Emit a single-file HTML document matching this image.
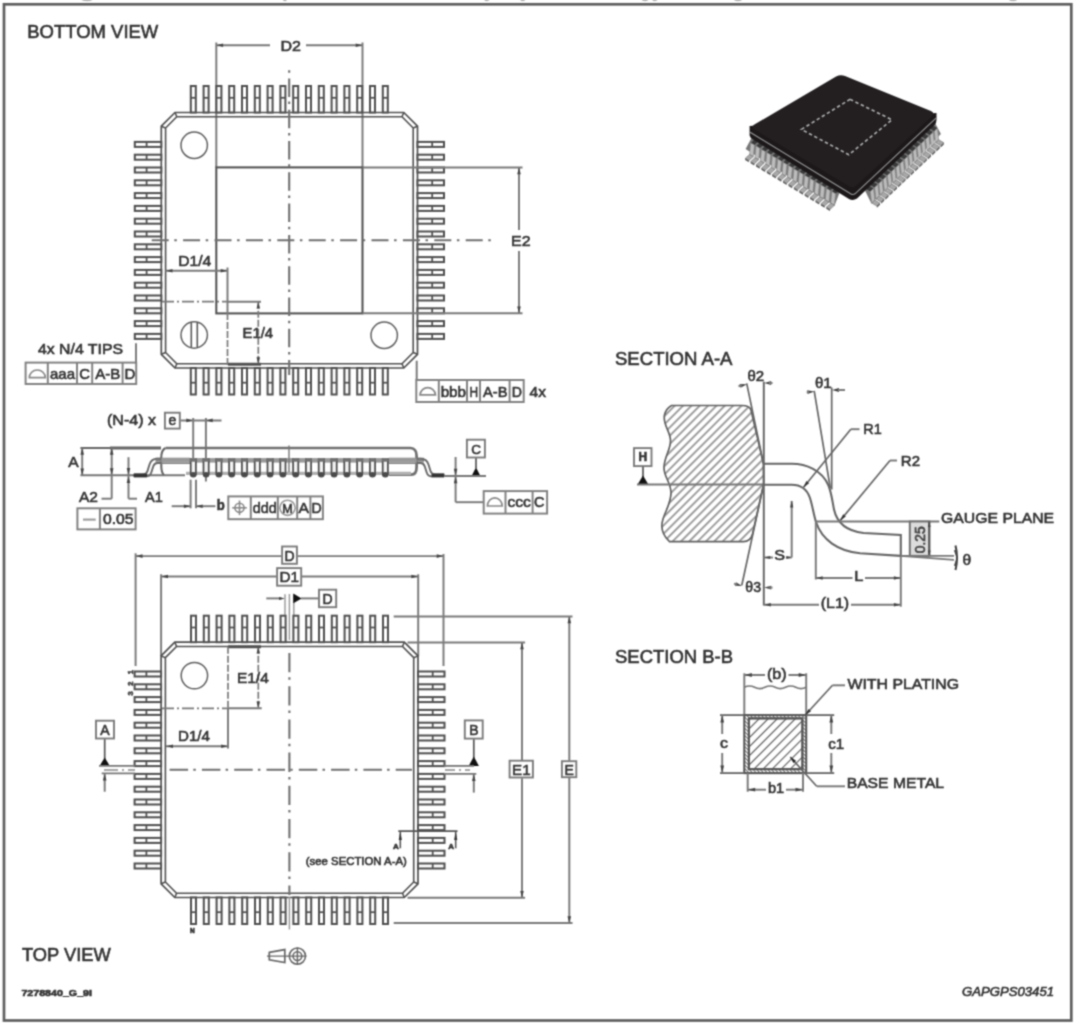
<!DOCTYPE html>
<html><head><meta charset="utf-8"><title>LQFP package outline</title>
<style>
html,body{margin:0;padding:0;background:#fff;}
body{width:1080px;height:1028px;overflow:hidden;}
svg{display:block;font-family:"Liberation Sans",sans-serif;}
svg text{stroke:#333;stroke-width:0.6px;paint-order:stroke;}
</style></head>
<body>
<svg width="1080" height="1028" viewBox="0 0 1080 1028">
<defs><filter id="bl" x="0" y="0" width="1080" height="1028" filterUnits="userSpaceOnUse" color-interpolation-filters="sRGB"><feConvolveMatrix order="3" kernelMatrix="0.0437 0.1216 0.0437 0.1216 0.338 0.1216 0.0437 0.1216 0.0437" divisor="1" edgeMode="duplicate" preserveAlpha="false"/></filter></defs>
<g id="all" filter="url(#bl)">
<rect x="0" y="0" width="1080" height="1028" fill="#fff"/>
<rect x="4" y="4.3" width="1067.3" height="1016.2" fill="none" stroke="#5e5e5e" stroke-width="2.7"/>
<ellipse cx="87.0" cy="-2.6" rx="7.0" ry="3.2" fill="none" stroke="#b5b5b5" stroke-width="1.2"/>
<ellipse cx="285.0" cy="-2.6" rx="2.0" ry="3.2" fill="none" stroke="#b5b5b5" stroke-width="1.2"/>
<ellipse cx="487.0" cy="-2.6" rx="3.0" ry="3.2" fill="none" stroke="#b5b5b5" stroke-width="1.2"/>
<ellipse cx="523.0" cy="-2.6" rx="3.0" ry="3.2" fill="none" stroke="#b5b5b5" stroke-width="1.2"/>
<ellipse cx="645.0" cy="-2.6" rx="4.0" ry="3.2" fill="none" stroke="#b5b5b5" stroke-width="1.2"/>
<ellipse cx="655.0" cy="-2.6" rx="3.0" ry="3.2" fill="none" stroke="#b5b5b5" stroke-width="1.2"/>
<ellipse cx="738.0" cy="-2.6" rx="5.0" ry="3.2" fill="none" stroke="#b5b5b5" stroke-width="1.2"/>
<ellipse cx="1013.0" cy="-2.6" rx="5.0" ry="3.2" fill="none" stroke="#b5b5b5" stroke-width="1.2"/>
<text x="27.3" y="38.0" font-size="18.5" text-anchor="start" font-weight="normal" fill="#333" textLength="131.0" lengthAdjust="spacingAndGlyphs"  >BOTTOM VIEW</text>
<line x1="216.3" y1="42.5" x2="216.3" y2="167.3" stroke="#7a7a7a" stroke-width="1.95" />
<line x1="362.5" y1="42.5" x2="362.5" y2="167.3" stroke="#7a7a7a" stroke-width="1.95" />
<line x1="216.3" y1="45.3" x2="270.0" y2="45.3" stroke="#7a7a7a" stroke-width="1.95" />
<line x1="306.0" y1="45.3" x2="362.5" y2="45.3" stroke="#7a7a7a" stroke-width="1.95" />
<polygon points="216.6,45.3 223.1,43.5 223.1,47.1" fill="#444"/>
<polygon points="362.2,45.3 355.7,47.1 355.7,43.5" fill="#444"/>
<text x="280.5" y="50.5" font-size="15" text-anchor="start" font-weight="normal" fill="#333" textLength="20.5" lengthAdjust="spacingAndGlyphs"  >D2</text>
<polygon points="175.0,112.5 403.8,112.5 417.5,126.2 417.5,354.3 403.8,368.0 175.0,368.0 161.3,354.3 161.3,126.2" fill="none" stroke="#505050" stroke-width="1.7"/>
<polygon points="176.8,116.8 402.0,116.8 413.2,128.0 413.2,352.5 402.0,363.7 176.8,363.7 165.6,352.5 165.6,128.0" fill="none" stroke="#505050" stroke-width="1.6"/>
<line x1="175.0" y1="112.5" x2="176.8" y2="116.8" stroke="#505050" stroke-width="1.56" />
<line x1="403.8" y1="112.5" x2="402.0" y2="116.8" stroke="#505050" stroke-width="1.56" />
<line x1="417.5" y1="126.2" x2="413.2" y2="128.0" stroke="#505050" stroke-width="1.56" />
<line x1="417.5" y1="354.3" x2="413.2" y2="352.5" stroke="#505050" stroke-width="1.56" />
<line x1="403.8" y1="368.0" x2="402.0" y2="363.7" stroke="#505050" stroke-width="1.56" />
<line x1="175.0" y1="368.0" x2="176.8" y2="363.7" stroke="#505050" stroke-width="1.56" />
<line x1="161.3" y1="354.3" x2="165.6" y2="352.5" stroke="#505050" stroke-width="1.56" />
<line x1="161.3" y1="126.2" x2="165.6" y2="128.0" stroke="#505050" stroke-width="1.56" />
<rect x="190.8" y="86.0" width="5.0" height="26.5" stroke="#505050" stroke-width="2.02" fill="white" />
<line x1="190.8" y1="97.8" x2="195.8" y2="97.8" stroke="#505050" stroke-width="1.76" />
<rect x="190.8" y="368.0" width="5.0" height="26.5" stroke="#505050" stroke-width="2.02" fill="white" />
<line x1="190.8" y1="382.7" x2="195.8" y2="382.7" stroke="#505050" stroke-width="1.76" />
<rect x="134.8" y="141.9" width="26.5" height="5.0" stroke="#505050" stroke-width="2.02" fill="white" />
<line x1="146.6" y1="141.9" x2="146.6" y2="146.9" stroke="#505050" stroke-width="1.76" />
<rect x="417.5" y="141.9" width="26.5" height="5.0" stroke="#505050" stroke-width="2.02" fill="white" />
<line x1="432.2" y1="141.9" x2="432.2" y2="146.9" stroke="#505050" stroke-width="1.76" />
<rect x="203.6" y="86.0" width="5.0" height="26.5" stroke="#505050" stroke-width="2.02" fill="white" />
<line x1="203.6" y1="97.8" x2="208.6" y2="97.8" stroke="#505050" stroke-width="1.76" />
<rect x="203.6" y="368.0" width="5.0" height="26.5" stroke="#505050" stroke-width="2.02" fill="white" />
<line x1="203.6" y1="382.7" x2="208.6" y2="382.7" stroke="#505050" stroke-width="1.76" />
<rect x="134.8" y="154.7" width="26.5" height="5.0" stroke="#505050" stroke-width="2.02" fill="white" />
<line x1="146.6" y1="154.7" x2="146.6" y2="159.7" stroke="#505050" stroke-width="1.76" />
<rect x="417.5" y="154.7" width="26.5" height="5.0" stroke="#505050" stroke-width="2.02" fill="white" />
<line x1="432.2" y1="154.7" x2="432.2" y2="159.7" stroke="#505050" stroke-width="1.76" />
<rect x="216.4" y="86.0" width="5.0" height="26.5" stroke="#505050" stroke-width="2.02" fill="white" />
<line x1="216.4" y1="97.8" x2="221.4" y2="97.8" stroke="#505050" stroke-width="1.76" />
<rect x="216.4" y="368.0" width="5.0" height="26.5" stroke="#505050" stroke-width="2.02" fill="white" />
<line x1="216.4" y1="382.7" x2="221.4" y2="382.7" stroke="#505050" stroke-width="1.76" />
<rect x="134.8" y="167.5" width="26.5" height="5.0" stroke="#505050" stroke-width="2.02" fill="white" />
<line x1="146.6" y1="167.5" x2="146.6" y2="172.5" stroke="#505050" stroke-width="1.76" />
<rect x="417.5" y="167.5" width="26.5" height="5.0" stroke="#505050" stroke-width="2.02" fill="white" />
<line x1="432.2" y1="167.5" x2="432.2" y2="172.5" stroke="#505050" stroke-width="1.76" />
<rect x="229.2" y="86.0" width="5.0" height="26.5" stroke="#505050" stroke-width="2.02" fill="white" />
<line x1="229.2" y1="97.8" x2="234.2" y2="97.8" stroke="#505050" stroke-width="1.76" />
<rect x="229.2" y="368.0" width="5.0" height="26.5" stroke="#505050" stroke-width="2.02" fill="white" />
<line x1="229.2" y1="382.7" x2="234.2" y2="382.7" stroke="#505050" stroke-width="1.76" />
<rect x="134.8" y="180.3" width="26.5" height="5.0" stroke="#505050" stroke-width="2.02" fill="white" />
<line x1="146.6" y1="180.3" x2="146.6" y2="185.3" stroke="#505050" stroke-width="1.76" />
<rect x="417.5" y="180.3" width="26.5" height="5.0" stroke="#505050" stroke-width="2.02" fill="white" />
<line x1="432.2" y1="180.3" x2="432.2" y2="185.3" stroke="#505050" stroke-width="1.76" />
<rect x="242.0" y="86.0" width="5.0" height="26.5" stroke="#505050" stroke-width="2.02" fill="white" />
<line x1="242.0" y1="97.8" x2="247.0" y2="97.8" stroke="#505050" stroke-width="1.76" />
<rect x="242.0" y="368.0" width="5.0" height="26.5" stroke="#505050" stroke-width="2.02" fill="white" />
<line x1="242.0" y1="382.7" x2="247.0" y2="382.7" stroke="#505050" stroke-width="1.76" />
<rect x="134.8" y="193.1" width="26.5" height="5.0" stroke="#505050" stroke-width="2.02" fill="white" />
<line x1="146.6" y1="193.1" x2="146.6" y2="198.1" stroke="#505050" stroke-width="1.76" />
<rect x="417.5" y="193.1" width="26.5" height="5.0" stroke="#505050" stroke-width="2.02" fill="white" />
<line x1="432.2" y1="193.1" x2="432.2" y2="198.1" stroke="#505050" stroke-width="1.76" />
<rect x="254.8" y="86.0" width="5.0" height="26.5" stroke="#505050" stroke-width="2.02" fill="white" />
<line x1="254.8" y1="97.8" x2="259.8" y2="97.8" stroke="#505050" stroke-width="1.76" />
<rect x="254.8" y="368.0" width="5.0" height="26.5" stroke="#505050" stroke-width="2.02" fill="white" />
<line x1="254.8" y1="382.7" x2="259.8" y2="382.7" stroke="#505050" stroke-width="1.76" />
<rect x="134.8" y="205.9" width="26.5" height="5.0" stroke="#505050" stroke-width="2.02" fill="white" />
<line x1="146.6" y1="205.9" x2="146.6" y2="210.9" stroke="#505050" stroke-width="1.76" />
<rect x="417.5" y="205.9" width="26.5" height="5.0" stroke="#505050" stroke-width="2.02" fill="white" />
<line x1="432.2" y1="205.9" x2="432.2" y2="210.9" stroke="#505050" stroke-width="1.76" />
<rect x="267.6" y="86.0" width="5.0" height="26.5" stroke="#505050" stroke-width="2.02" fill="white" />
<line x1="267.6" y1="97.8" x2="272.6" y2="97.8" stroke="#505050" stroke-width="1.76" />
<rect x="267.6" y="368.0" width="5.0" height="26.5" stroke="#505050" stroke-width="2.02" fill="white" />
<line x1="267.6" y1="382.7" x2="272.6" y2="382.7" stroke="#505050" stroke-width="1.76" />
<rect x="134.8" y="218.7" width="26.5" height="5.0" stroke="#505050" stroke-width="2.02" fill="white" />
<line x1="146.6" y1="218.7" x2="146.6" y2="223.7" stroke="#505050" stroke-width="1.76" />
<rect x="417.5" y="218.7" width="26.5" height="5.0" stroke="#505050" stroke-width="2.02" fill="white" />
<line x1="432.2" y1="218.7" x2="432.2" y2="223.7" stroke="#505050" stroke-width="1.76" />
<rect x="280.4" y="86.0" width="5.0" height="26.5" stroke="#505050" stroke-width="2.02" fill="white" />
<line x1="280.4" y1="97.8" x2="285.4" y2="97.8" stroke="#505050" stroke-width="1.76" />
<rect x="280.4" y="368.0" width="5.0" height="26.5" stroke="#505050" stroke-width="2.02" fill="white" />
<line x1="280.4" y1="382.7" x2="285.4" y2="382.7" stroke="#505050" stroke-width="1.76" />
<rect x="134.8" y="231.5" width="26.5" height="5.0" stroke="#505050" stroke-width="2.02" fill="white" />
<line x1="146.6" y1="231.5" x2="146.6" y2="236.5" stroke="#505050" stroke-width="1.76" />
<rect x="417.5" y="231.5" width="26.5" height="5.0" stroke="#505050" stroke-width="2.02" fill="white" />
<line x1="432.2" y1="231.5" x2="432.2" y2="236.5" stroke="#505050" stroke-width="1.76" />
<rect x="293.2" y="86.0" width="5.0" height="26.5" stroke="#505050" stroke-width="2.02" fill="white" />
<line x1="293.2" y1="97.8" x2="298.2" y2="97.8" stroke="#505050" stroke-width="1.76" />
<rect x="293.2" y="368.0" width="5.0" height="26.5" stroke="#505050" stroke-width="2.02" fill="white" />
<line x1="293.2" y1="382.7" x2="298.2" y2="382.7" stroke="#505050" stroke-width="1.76" />
<rect x="134.8" y="244.3" width="26.5" height="5.0" stroke="#505050" stroke-width="2.02" fill="white" />
<line x1="146.6" y1="244.3" x2="146.6" y2="249.3" stroke="#505050" stroke-width="1.76" />
<rect x="417.5" y="244.3" width="26.5" height="5.0" stroke="#505050" stroke-width="2.02" fill="white" />
<line x1="432.2" y1="244.3" x2="432.2" y2="249.3" stroke="#505050" stroke-width="1.76" />
<rect x="306.0" y="86.0" width="5.0" height="26.5" stroke="#505050" stroke-width="2.02" fill="white" />
<line x1="306.0" y1="97.8" x2="311.0" y2="97.8" stroke="#505050" stroke-width="1.76" />
<rect x="306.0" y="368.0" width="5.0" height="26.5" stroke="#505050" stroke-width="2.02" fill="white" />
<line x1="306.0" y1="382.7" x2="311.0" y2="382.7" stroke="#505050" stroke-width="1.76" />
<rect x="134.8" y="257.1" width="26.5" height="5.0" stroke="#505050" stroke-width="2.02" fill="white" />
<line x1="146.6" y1="257.1" x2="146.6" y2="262.1" stroke="#505050" stroke-width="1.76" />
<rect x="417.5" y="257.1" width="26.5" height="5.0" stroke="#505050" stroke-width="2.02" fill="white" />
<line x1="432.2" y1="257.1" x2="432.2" y2="262.1" stroke="#505050" stroke-width="1.76" />
<rect x="318.8" y="86.0" width="5.0" height="26.5" stroke="#505050" stroke-width="2.02" fill="white" />
<line x1="318.8" y1="97.8" x2="323.8" y2="97.8" stroke="#505050" stroke-width="1.76" />
<rect x="318.8" y="368.0" width="5.0" height="26.5" stroke="#505050" stroke-width="2.02" fill="white" />
<line x1="318.8" y1="382.7" x2="323.8" y2="382.7" stroke="#505050" stroke-width="1.76" />
<rect x="134.8" y="269.9" width="26.5" height="5.0" stroke="#505050" stroke-width="2.02" fill="white" />
<line x1="146.6" y1="269.9" x2="146.6" y2="274.9" stroke="#505050" stroke-width="1.76" />
<rect x="417.5" y="269.9" width="26.5" height="5.0" stroke="#505050" stroke-width="2.02" fill="white" />
<line x1="432.2" y1="269.9" x2="432.2" y2="274.9" stroke="#505050" stroke-width="1.76" />
<rect x="331.6" y="86.0" width="5.0" height="26.5" stroke="#505050" stroke-width="2.02" fill="white" />
<line x1="331.6" y1="97.8" x2="336.6" y2="97.8" stroke="#505050" stroke-width="1.76" />
<rect x="331.6" y="368.0" width="5.0" height="26.5" stroke="#505050" stroke-width="2.02" fill="white" />
<line x1="331.6" y1="382.7" x2="336.6" y2="382.7" stroke="#505050" stroke-width="1.76" />
<rect x="134.8" y="282.7" width="26.5" height="5.0" stroke="#505050" stroke-width="2.02" fill="white" />
<line x1="146.6" y1="282.7" x2="146.6" y2="287.7" stroke="#505050" stroke-width="1.76" />
<rect x="417.5" y="282.7" width="26.5" height="5.0" stroke="#505050" stroke-width="2.02" fill="white" />
<line x1="432.2" y1="282.7" x2="432.2" y2="287.7" stroke="#505050" stroke-width="1.76" />
<rect x="344.4" y="86.0" width="5.0" height="26.5" stroke="#505050" stroke-width="2.02" fill="white" />
<line x1="344.4" y1="97.8" x2="349.4" y2="97.8" stroke="#505050" stroke-width="1.76" />
<rect x="344.4" y="368.0" width="5.0" height="26.5" stroke="#505050" stroke-width="2.02" fill="white" />
<line x1="344.4" y1="382.7" x2="349.4" y2="382.7" stroke="#505050" stroke-width="1.76" />
<rect x="134.8" y="295.5" width="26.5" height="5.0" stroke="#505050" stroke-width="2.02" fill="white" />
<line x1="146.6" y1="295.5" x2="146.6" y2="300.5" stroke="#505050" stroke-width="1.76" />
<rect x="417.5" y="295.5" width="26.5" height="5.0" stroke="#505050" stroke-width="2.02" fill="white" />
<line x1="432.2" y1="295.5" x2="432.2" y2="300.5" stroke="#505050" stroke-width="1.76" />
<rect x="357.2" y="86.0" width="5.0" height="26.5" stroke="#505050" stroke-width="2.02" fill="white" />
<line x1="357.2" y1="97.8" x2="362.2" y2="97.8" stroke="#505050" stroke-width="1.76" />
<rect x="357.2" y="368.0" width="5.0" height="26.5" stroke="#505050" stroke-width="2.02" fill="white" />
<line x1="357.2" y1="382.7" x2="362.2" y2="382.7" stroke="#505050" stroke-width="1.76" />
<rect x="134.8" y="308.3" width="26.5" height="5.0" stroke="#505050" stroke-width="2.02" fill="white" />
<line x1="146.6" y1="308.3" x2="146.6" y2="313.3" stroke="#505050" stroke-width="1.76" />
<rect x="417.5" y="308.3" width="26.5" height="5.0" stroke="#505050" stroke-width="2.02" fill="white" />
<line x1="432.2" y1="308.3" x2="432.2" y2="313.3" stroke="#505050" stroke-width="1.76" />
<rect x="370.0" y="86.0" width="5.0" height="26.5" stroke="#505050" stroke-width="2.02" fill="white" />
<line x1="370.0" y1="97.8" x2="375.0" y2="97.8" stroke="#505050" stroke-width="1.76" />
<rect x="370.0" y="368.0" width="5.0" height="26.5" stroke="#505050" stroke-width="2.02" fill="white" />
<line x1="370.0" y1="382.7" x2="375.0" y2="382.7" stroke="#505050" stroke-width="1.76" />
<rect x="134.8" y="321.1" width="26.5" height="5.0" stroke="#505050" stroke-width="2.02" fill="white" />
<line x1="146.6" y1="321.1" x2="146.6" y2="326.1" stroke="#505050" stroke-width="1.76" />
<rect x="417.5" y="321.1" width="26.5" height="5.0" stroke="#505050" stroke-width="2.02" fill="white" />
<line x1="432.2" y1="321.1" x2="432.2" y2="326.1" stroke="#505050" stroke-width="1.76" />
<rect x="382.8" y="86.0" width="5.0" height="26.5" stroke="#505050" stroke-width="2.02" fill="white" />
<line x1="382.8" y1="97.8" x2="387.8" y2="97.8" stroke="#505050" stroke-width="1.76" />
<rect x="382.8" y="368.0" width="5.0" height="26.5" stroke="#505050" stroke-width="2.02" fill="white" />
<line x1="382.8" y1="382.7" x2="387.8" y2="382.7" stroke="#505050" stroke-width="1.76" />
<rect x="134.8" y="333.9" width="26.5" height="5.0" stroke="#505050" stroke-width="2.02" fill="white" />
<line x1="146.6" y1="333.9" x2="146.6" y2="338.9" stroke="#505050" stroke-width="1.76" />
<rect x="417.5" y="333.9" width="26.5" height="5.0" stroke="#505050" stroke-width="2.02" fill="white" />
<line x1="432.2" y1="333.9" x2="432.2" y2="338.9" stroke="#505050" stroke-width="1.76" />
<rect x="216.3" y="167.4" width="146.2" height="146.0" stroke="#505050" stroke-width="2.02" fill="none" />
<circle cx="194.2" cy="145.3" r="13.2" stroke="#606060" stroke-width="1.49" fill="none"/>
<circle cx="194.2" cy="335.0" r="13.2" stroke="#606060" stroke-width="1.49" fill="none"/>
<line x1="191.3" y1="322.3" x2="191.3" y2="347.7" stroke="#555" stroke-width="1.56" />
<line x1="197.3" y1="322.3" x2="197.3" y2="347.7" stroke="#555" stroke-width="1.56" />
<circle cx="384.2" cy="335.3" r="13.2" stroke="#606060" stroke-width="1.49" fill="none"/>
<line x1="289.2" y1="70.3" x2="289.2" y2="375.0" stroke="#707070" stroke-width="2.08" stroke-dasharray="18.5 4.7 2.5 5.6" stroke-dashoffset="23.2"/>
<line x1="151.7" y1="240.2" x2="493.0" y2="240.2" stroke="#707070" stroke-width="2.08" stroke-dasharray="17 5.6 2.5 6.3"/>
<line x1="362.5" y1="167.5" x2="522.5" y2="167.5" stroke="#7a7a7a" stroke-width="1.95" />
<line x1="362.5" y1="313.3" x2="522.5" y2="313.3" stroke="#7a7a7a" stroke-width="1.95" />
<line x1="519.0" y1="167.5" x2="519.0" y2="230.0" stroke="#7a7a7a" stroke-width="1.95" />
<line x1="519.0" y1="251.0" x2="519.0" y2="313.3" stroke="#7a7a7a" stroke-width="1.95" />
<polygon points="519.0,167.8 520.8,174.3 517.2,174.3" fill="#444"/>
<polygon points="519.0,313.0 517.2,306.5 520.8,306.5" fill="#444"/>
<text x="511.0" y="246.0" font-size="15" text-anchor="start" font-weight="normal" fill="#333" textLength="19.5" lengthAdjust="spacingAndGlyphs"  >E2</text>
<text x="178.3" y="265.8" font-size="15" text-anchor="start" font-weight="normal" fill="#333" textLength="33.0" lengthAdjust="spacingAndGlyphs"  >D1/4</text>
<line x1="165.5" y1="270.8" x2="227.5" y2="270.8" stroke="#7a7a7a" stroke-width="1.95" />
<polygon points="166.0,270.8 172.5,269.0 172.5,272.6" fill="#444"/>
<polygon points="227.2,270.8 220.7,272.6 220.7,269.0" fill="#444"/>
<line x1="227.5" y1="267.5" x2="227.5" y2="313.0" stroke="#7a7a7a" stroke-width="1.95" />
<line x1="227.5" y1="313.0" x2="227.5" y2="365.0" stroke="#7a7a7a" stroke-width="1.69" stroke-dasharray="7 2"/>
<line x1="162.0" y1="301.7" x2="228.0" y2="301.7" stroke="#7a7a7a" stroke-width="1.69" stroke-dasharray="12 3 2 3"/>
<line x1="228.0" y1="301.7" x2="261.0" y2="301.7" stroke="#7a7a7a" stroke-width="1.95" />
<line x1="258.3" y1="301.7" x2="258.3" y2="364.0" stroke="#7a7a7a" stroke-width="1.69" stroke-dasharray="7 2"/>
<polygon points="258.3,302.0 260.1,308.5 256.5,308.5" fill="#444"/>
<polygon points="258.3,363.8 256.5,357.3 260.1,357.3" fill="#444"/>
<line x1="228.0" y1="364.2" x2="261.0" y2="364.2" stroke="#505050" stroke-width="2.86" />
<text x="242.5" y="338.3" font-size="15" text-anchor="start" font-weight="normal" fill="#333" textLength="30.5" lengthAdjust="spacingAndGlyphs"  >E1/4</text>
<text x="38.0" y="353.7" font-size="15" text-anchor="start" font-weight="normal" fill="#333" textLength="85.0" lengthAdjust="spacingAndGlyphs"  >4x N/4 TIPS</text>
<line x1="136.0" y1="343.3" x2="136.0" y2="362.6" stroke="#7a7a7a" stroke-width="1.95" />
<rect x="25.6" y="362.6" width="110.6" height="21.4" stroke="#808080" stroke-width="1.95" fill="none" />
<line x1="47.8" y1="362.6" x2="47.8" y2="384.0" stroke="#808080" stroke-width="1.95" />
<line x1="77.0" y1="362.6" x2="77.0" y2="384.0" stroke="#808080" stroke-width="1.95" />
<line x1="92.2" y1="362.6" x2="92.2" y2="384.0" stroke="#808080" stroke-width="1.95" />
<line x1="122.6" y1="362.6" x2="122.6" y2="384.0" stroke="#808080" stroke-width="1.95" />
<path d="M29.3,377.7 L45.3,377.7 A8.0,7.7 0 0 0 29.3,377.7 Z" stroke="#888" stroke-width="1.69" fill="none" />
<text x="50.0" y="378.9" font-size="15" text-anchor="start" font-weight="normal" fill="#333" textLength="25.0" lengthAdjust="spacingAndGlyphs"  >aaa</text>
<text x="79.3" y="378.9" font-size="15" text-anchor="start" font-weight="normal" fill="#333" textLength="10.7" lengthAdjust="spacingAndGlyphs"  >C</text>
<text x="95.2" y="378.9" font-size="15" text-anchor="start" font-weight="normal" fill="#333" textLength="25.2" lengthAdjust="spacingAndGlyphs"  >A-B</text>
<text x="124.4" y="378.9" font-size="15" text-anchor="start" font-weight="normal" fill="#333" textLength="10.8" lengthAdjust="spacingAndGlyphs"  >D</text>
<line x1="416.7" y1="360.7" x2="416.7" y2="380.0" stroke="#7a7a7a" stroke-width="1.95" />
<rect x="416.3" y="380.0" width="107.4" height="22.0" stroke="#808080" stroke-width="1.95" fill="none" />
<line x1="438.8" y1="380.0" x2="438.8" y2="402.0" stroke="#808080" stroke-width="1.95" />
<line x1="467.0" y1="380.0" x2="467.0" y2="402.0" stroke="#808080" stroke-width="1.95" />
<line x1="480.0" y1="380.0" x2="480.0" y2="402.0" stroke="#808080" stroke-width="1.95" />
<line x1="509.6" y1="380.0" x2="509.6" y2="402.0" stroke="#808080" stroke-width="1.95" />
<path d="M420.0,394.8 L435.5,394.8 A7.8,8.1 0 0 0 420.0,394.8 Z" stroke="#888" stroke-width="1.69" fill="none" />
<text x="440.7" y="396.6" font-size="15" text-anchor="start" font-weight="normal" fill="#333" textLength="25.3" lengthAdjust="spacingAndGlyphs"  >bbb</text>
<text x="469.6" y="396.6" font-size="15" text-anchor="start" font-weight="normal" fill="#333" textLength="8.6" lengthAdjust="spacingAndGlyphs"  >H</text>
<text x="483.0" y="396.6" font-size="15" text-anchor="start" font-weight="normal" fill="#333" textLength="24.4" lengthAdjust="spacingAndGlyphs"  >A-B</text>
<text x="511.8" y="396.6" font-size="15" text-anchor="start" font-weight="normal" fill="#333" textLength="10.2" lengthAdjust="spacingAndGlyphs"  >D</text>
<text x="529.6" y="396.6" font-size="15" text-anchor="start" font-weight="normal" fill="#333" textLength="16.4" lengthAdjust="spacingAndGlyphs"  >4x</text>
<text x="107.0" y="424.9" font-size="15" text-anchor="start" font-weight="normal" fill="#333" textLength="49.0" lengthAdjust="spacingAndGlyphs"  >(N-4) x</text>
<rect x="164.9" y="412.7" width="14.9" height="15.9" stroke="#7a7a7a" stroke-width="1.89" fill="none" />
<text x="172.4" y="425.0" font-size="14" text-anchor="middle" font-weight="normal" fill="#333"  >e</text>
<line x1="180.5" y1="420.4" x2="221.5" y2="420.4" stroke="#7a7a7a" stroke-width="1.95" />
<polygon points="192.8,420.4 186.3,422.2 186.3,418.6" fill="#444"/>
<polygon points="206.2,420.4 212.7,418.6 212.7,422.2" fill="#444"/>
<line x1="193.2" y1="418.0" x2="193.2" y2="458.0" stroke="#7a7a7a" stroke-width="1.95" />
<line x1="205.9" y1="418.0" x2="205.9" y2="481.5" stroke="#7a7a7a" stroke-width="1.95" />
<line x1="80.4" y1="448.0" x2="161.0" y2="448.0" stroke="#666" stroke-width="2.08" />
<line x1="110.0" y1="448.0" x2="161.0" y2="448.0" stroke="#666" stroke-width="2.86" />
<line x1="80.4" y1="475.3" x2="185.0" y2="475.3" stroke="#777" stroke-width="2.08" />
<line x1="82.2" y1="448.0" x2="82.2" y2="475.3" stroke="#7a7a7a" stroke-width="1.95" />
<polygon points="82.2,448.3 84.0,454.8 80.4,454.8" fill="#444"/>
<polygon points="82.2,475.0 80.4,468.5 84.0,468.5" fill="#444"/>
<text x="68.2" y="467.4" font-size="15" text-anchor="start" font-weight="normal" fill="#333" textLength="10.4" lengthAdjust="spacingAndGlyphs"  >A</text>
<line x1="111.7" y1="448.0" x2="111.7" y2="498.7" stroke="#7a7a7a" stroke-width="1.95" />
<line x1="101.5" y1="498.7" x2="111.7" y2="498.7" stroke="#7a7a7a" stroke-width="1.95" />
<polygon points="111.7,448.3 113.5,454.8 109.9,454.8" fill="#444"/>
<polygon points="111.7,474.8 109.9,468.3 113.5,468.3" fill="#444"/>
<text x="79.0" y="501.9" font-size="15" text-anchor="start" font-weight="normal" fill="#333" textLength="19.0" lengthAdjust="spacingAndGlyphs"  >A2</text>
<line x1="128.5" y1="457.2" x2="128.5" y2="498.7" stroke="#7a7a7a" stroke-width="1.95" />
<line x1="128.5" y1="498.7" x2="137.0" y2="498.7" stroke="#7a7a7a" stroke-width="1.95" />
<polygon points="128.5,474.6 126.7,468.1 130.3,468.1" fill="#444"/>
<polygon points="128.5,476.4 130.3,482.9 126.7,482.9" fill="#444"/>
<text x="145.0" y="501.9" font-size="15" text-anchor="start" font-weight="normal" fill="#333" textLength="17.8" lengthAdjust="spacingAndGlyphs"  >A1</text>
<rect x="77.4" y="508.3" width="58.2" height="21.1" stroke="#808080" stroke-width="1.95" fill="none" />
<line x1="99.9" y1="508.3" x2="99.9" y2="529.4" stroke="#808080" stroke-width="1.95" />
<line x1="83.0" y1="519.6" x2="95.7" y2="519.6" stroke="#999" stroke-width="2.08" />
<text x="102.9" y="524.0" font-size="15" text-anchor="start" font-weight="normal" fill="#333" textLength="30.6" lengthAdjust="spacingAndGlyphs"  >0.05</text>
<path d="M165.5,448 L410.5,448 C414.5,448 416.6,451.5 416.6,456 L416.6,467 C416.6,471.5 415,474.6 411.4,474.6 L389,474.6" stroke="#707070" stroke-width="2.73" fill="none" />
<path d="M165.5,448 C162.5,449.5 161.3,453 161.3,457.5 L161.3,466 C161.3,470.5 162.2,473.5 164,475.2" stroke="#666" stroke-width="2.08" fill="none" />
<line x1="155.5" y1="458.6" x2="190.0" y2="458.6" stroke="#808080" stroke-width="1.56" />
<line x1="389.0" y1="458.6" x2="424.0" y2="458.6" stroke="#808080" stroke-width="1.56" />
<line x1="155.5" y1="460.9" x2="190.0" y2="460.9" stroke="#808080" stroke-width="1.56" />
<line x1="389.0" y1="460.9" x2="424.0" y2="460.9" stroke="#808080" stroke-width="1.56" />
<line x1="155.5" y1="463.2" x2="190.0" y2="463.2" stroke="#808080" stroke-width="1.56" />
<line x1="389.0" y1="463.2" x2="424.0" y2="463.2" stroke="#808080" stroke-width="1.56" />
<path d="M161.3,458.8 L157,458.8 C152.5,458.8 150.8,460.8 149.5,464.5 L147.5,471 C146.8,473.3 145.5,474.3 143,474.3 L134,474.3" stroke="#6a6a6a" stroke-width="1.95" fill="none" />
<path d="M161.3,463 L157.5,463 C155,463 154,464.2 153.2,466.5 L151.3,472.5 C150.5,475 149,476.4 146,476.4 L134,476.4" stroke="#6a6a6a" stroke-width="1.95" fill="none" />
<line x1="133.5" y1="475.4" x2="147.0" y2="475.4" stroke="#333" stroke-width="3.38" />
<path d="M416.6,458.8 L421,458.8 C425.5,458.8 427.2,460.8 428.5,464.5 L430.5,471 C431.2,473.3 432.5,474.3 435,474.3 L444,474.3" stroke="#6a6a6a" stroke-width="1.95" fill="none" />
<path d="M416.6,463 L420.5,463 C423,463 424,464.2 424.8,466.5 L426.7,472.5 C427.5,475 429,476.4 432,476.4 L444,476.4" stroke="#6a6a6a" stroke-width="1.95" fill="none" />
<line x1="431.5" y1="475.4" x2="444.5" y2="475.4" stroke="#333" stroke-width="3.38" />
<rect x="161.5" y="458.1" width="255" height="4.5" fill="#9a9a9a"/>
<line x1="186.0" y1="473.4" x2="411.0" y2="473.4" stroke="#b0b0b0" stroke-width="3.12" />
<path d="M190.7,458.3 L190.7,473.5 Q190.7,476.6 193.3,476.6 Q195.9,476.6 195.9,473.5 L195.9,458.3" fill="#f2f2f2" stroke="#484848" stroke-width="1.7"/>
<ellipse cx="193.3" cy="474.6" rx="3.2" ry="2.5" fill="#4a4a4a"/>
<rect x="189.9" y="458.1" width="6.8" height="3.6" fill="#707070"/>
<path d="M203.5,458.3 L203.5,473.5 Q203.5,476.6 206.1,476.6 Q208.7,476.6 208.7,473.5 L208.7,458.3" fill="#f2f2f2" stroke="#484848" stroke-width="1.7"/>
<ellipse cx="206.1" cy="474.6" rx="3.2" ry="2.5" fill="#4a4a4a"/>
<rect x="202.7" y="458.1" width="6.8" height="3.6" fill="#707070"/>
<path d="M216.3,458.3 L216.3,473.5 Q216.3,476.6 218.9,476.6 Q221.5,476.6 221.5,473.5 L221.5,458.3" fill="#f2f2f2" stroke="#484848" stroke-width="1.7"/>
<ellipse cx="218.9" cy="474.6" rx="3.2" ry="2.5" fill="#4a4a4a"/>
<rect x="215.5" y="458.1" width="6.8" height="3.6" fill="#707070"/>
<path d="M229.1,458.3 L229.1,473.5 Q229.1,476.6 231.7,476.6 Q234.3,476.6 234.3,473.5 L234.3,458.3" fill="#f2f2f2" stroke="#484848" stroke-width="1.7"/>
<ellipse cx="231.7" cy="474.6" rx="3.2" ry="2.5" fill="#4a4a4a"/>
<rect x="228.3" y="458.1" width="6.8" height="3.6" fill="#707070"/>
<path d="M241.9,458.3 L241.9,473.5 Q241.9,476.6 244.5,476.6 Q247.1,476.6 247.1,473.5 L247.1,458.3" fill="#f2f2f2" stroke="#484848" stroke-width="1.7"/>
<ellipse cx="244.5" cy="474.6" rx="3.2" ry="2.5" fill="#4a4a4a"/>
<rect x="241.1" y="458.1" width="6.8" height="3.6" fill="#707070"/>
<path d="M254.7,458.3 L254.7,473.5 Q254.7,476.6 257.3,476.6 Q259.9,476.6 259.9,473.5 L259.9,458.3" fill="#f2f2f2" stroke="#484848" stroke-width="1.7"/>
<ellipse cx="257.3" cy="474.6" rx="3.2" ry="2.5" fill="#4a4a4a"/>
<rect x="253.9" y="458.1" width="6.8" height="3.6" fill="#707070"/>
<path d="M267.5,458.3 L267.5,473.5 Q267.5,476.6 270.1,476.6 Q272.7,476.6 272.7,473.5 L272.7,458.3" fill="#f2f2f2" stroke="#484848" stroke-width="1.7"/>
<ellipse cx="270.1" cy="474.6" rx="3.2" ry="2.5" fill="#4a4a4a"/>
<rect x="266.7" y="458.1" width="6.8" height="3.6" fill="#707070"/>
<path d="M280.3,458.3 L280.3,473.5 Q280.3,476.6 282.9,476.6 Q285.5,476.6 285.5,473.5 L285.5,458.3" fill="#f2f2f2" stroke="#484848" stroke-width="1.7"/>
<ellipse cx="282.9" cy="474.6" rx="3.2" ry="2.5" fill="#4a4a4a"/>
<rect x="279.5" y="458.1" width="6.8" height="3.6" fill="#707070"/>
<path d="M293.1,458.3 L293.1,473.5 Q293.1,476.6 295.7,476.6 Q298.3,476.6 298.3,473.5 L298.3,458.3" fill="#f2f2f2" stroke="#484848" stroke-width="1.7"/>
<ellipse cx="295.7" cy="474.6" rx="3.2" ry="2.5" fill="#4a4a4a"/>
<rect x="292.3" y="458.1" width="6.8" height="3.6" fill="#707070"/>
<path d="M305.9,458.3 L305.9,473.5 Q305.9,476.6 308.5,476.6 Q311.1,476.6 311.1,473.5 L311.1,458.3" fill="#f2f2f2" stroke="#484848" stroke-width="1.7"/>
<ellipse cx="308.5" cy="474.6" rx="3.2" ry="2.5" fill="#4a4a4a"/>
<rect x="305.1" y="458.1" width="6.8" height="3.6" fill="#707070"/>
<path d="M318.7,458.3 L318.7,473.5 Q318.7,476.6 321.3,476.6 Q323.9,476.6 323.9,473.5 L323.9,458.3" fill="#f2f2f2" stroke="#484848" stroke-width="1.7"/>
<ellipse cx="321.3" cy="474.6" rx="3.2" ry="2.5" fill="#4a4a4a"/>
<rect x="317.9" y="458.1" width="6.8" height="3.6" fill="#707070"/>
<path d="M331.5,458.3 L331.5,473.5 Q331.5,476.6 334.1,476.6 Q336.7,476.6 336.7,473.5 L336.7,458.3" fill="#f2f2f2" stroke="#484848" stroke-width="1.7"/>
<ellipse cx="334.1" cy="474.6" rx="3.2" ry="2.5" fill="#4a4a4a"/>
<rect x="330.7" y="458.1" width="6.8" height="3.6" fill="#707070"/>
<path d="M344.3,458.3 L344.3,473.5 Q344.3,476.6 346.9,476.6 Q349.5,476.6 349.5,473.5 L349.5,458.3" fill="#f2f2f2" stroke="#484848" stroke-width="1.7"/>
<ellipse cx="346.9" cy="474.6" rx="3.2" ry="2.5" fill="#4a4a4a"/>
<rect x="343.5" y="458.1" width="6.8" height="3.6" fill="#707070"/>
<path d="M357.1,458.3 L357.1,473.5 Q357.1,476.6 359.7,476.6 Q362.3,476.6 362.3,473.5 L362.3,458.3" fill="#f2f2f2" stroke="#484848" stroke-width="1.7"/>
<ellipse cx="359.7" cy="474.6" rx="3.2" ry="2.5" fill="#4a4a4a"/>
<rect x="356.3" y="458.1" width="6.8" height="3.6" fill="#707070"/>
<path d="M369.9,458.3 L369.9,473.5 Q369.9,476.6 372.5,476.6 Q375.1,476.6 375.1,473.5 L375.1,458.3" fill="#f2f2f2" stroke="#484848" stroke-width="1.7"/>
<ellipse cx="372.5" cy="474.6" rx="3.2" ry="2.5" fill="#4a4a4a"/>
<rect x="369.1" y="458.1" width="6.8" height="3.6" fill="#707070"/>
<path d="M382.7,458.3 L382.7,473.5 Q382.7,476.6 385.3,476.6 Q387.9,476.6 387.9,473.5 L387.9,458.3" fill="#f2f2f2" stroke="#484848" stroke-width="1.7"/>
<ellipse cx="385.3" cy="474.6" rx="3.2" ry="2.5" fill="#4a4a4a"/>
<rect x="381.9" y="458.1" width="6.8" height="3.6" fill="#707070"/>
<line x1="289.0" y1="445.5" x2="289.0" y2="472.0" stroke="#777" stroke-width="1.43" />
<line x1="190.6" y1="479.7" x2="190.6" y2="508.3" stroke="#7a7a7a" stroke-width="1.95" />
<line x1="196.0" y1="479.7" x2="196.0" y2="508.3" stroke="#7a7a7a" stroke-width="1.95" />
<line x1="171.7" y1="506.2" x2="190.6" y2="506.2" stroke="#7a7a7a" stroke-width="1.95" />
<line x1="196.0" y1="506.2" x2="215.4" y2="506.2" stroke="#7a7a7a" stroke-width="1.95" />
<polygon points="190.4,506.2 183.9,508.0 183.9,504.4" fill="#444"/>
<polygon points="196.2,506.2 202.7,504.4 202.7,508.0" fill="#444"/>
<text x="216.8" y="509.6" font-size="15" text-anchor="start" font-weight="bold" fill="#333" textLength="8.0" lengthAdjust="spacingAndGlyphs"  >b</text>
<rect x="228.3" y="496.4" width="94.6" height="22.8" stroke="#808080" stroke-width="1.95" fill="none" />
<line x1="250.8" y1="496.4" x2="250.8" y2="519.2" stroke="#808080" stroke-width="1.95" />
<line x1="277.8" y1="496.4" x2="277.8" y2="519.2" stroke="#808080" stroke-width="1.95" />
<line x1="297.2" y1="496.4" x2="297.2" y2="519.2" stroke="#808080" stroke-width="1.95" />
<line x1="310.4" y1="496.4" x2="310.4" y2="519.2" stroke="#808080" stroke-width="1.95" />
<circle cx="239.5" cy="507.8" r="4.6" stroke="#888" stroke-width="1.56" fill="none"/>
<line x1="232.2" y1="507.8" x2="246.8" y2="507.8" stroke="#888" stroke-width="1.56" />
<line x1="239.5" y1="500.5" x2="239.5" y2="515.1" stroke="#888" stroke-width="1.56" />
<text x="252.8" y="513.3" font-size="15" text-anchor="start" font-weight="normal" fill="#333" textLength="24.0" lengthAdjust="spacingAndGlyphs"  >ddd</text>
<circle cx="287.5" cy="507.8" r="7.6" stroke="#999" stroke-width="1.56" fill="none"/>
<text x="287.5" y="512.6" font-size="12.5" text-anchor="middle" font-weight="normal" fill="#333"  >M</text>
<text x="298.6" y="513.3" font-size="15" text-anchor="start" font-weight="normal" fill="#333" textLength="10.5" lengthAdjust="spacingAndGlyphs"  >A</text>
<text x="311.6" y="513.3" font-size="15" text-anchor="start" font-weight="normal" fill="#333" textLength="10.2" lengthAdjust="spacingAndGlyphs"  >D</text>
<rect x="466.9" y="439.7" width="18.0" height="17.8" stroke="#7a7a7a" stroke-width="1.89" fill="none" />
<text x="476.0" y="453.6" font-size="13.5" text-anchor="middle" font-weight="normal" fill="#333"  >C</text>
<line x1="476.0" y1="458.2" x2="476.0" y2="468.0" stroke="#555" stroke-width="1.69" />
<polygon points="476,467.2 471.6,476 480.4,476" fill="#111"/>
<line x1="444.0" y1="476.0" x2="486.0" y2="476.0" stroke="#777" stroke-width="1.82" />
<line x1="455.6" y1="457.0" x2="455.6" y2="502.2" stroke="#7a7a7a" stroke-width="1.95" />
<polygon points="455.6,475.3 453.8,468.8 457.4,468.8" fill="#444"/>
<polygon points="455.6,476.7 457.4,483.2 453.8,483.2" fill="#444"/>
<line x1="455.6" y1="502.2" x2="483.7" y2="502.2" stroke="#7a7a7a" stroke-width="1.95" />
<rect x="483.7" y="491.1" width="63.4" height="22.5" stroke="#808080" stroke-width="1.95" fill="none" />
<line x1="505.5" y1="491.1" x2="505.5" y2="513.6" stroke="#808080" stroke-width="1.95" />
<line x1="532.6" y1="491.1" x2="532.6" y2="513.6" stroke="#808080" stroke-width="1.95" />
<path d="M487.4,506.0 L502.2,506.0 A7.4,8.2 0 0 0 487.4,506.0 Z" stroke="#888" stroke-width="1.69" fill="none" />
<text x="507.4" y="507.4" font-size="15" text-anchor="start" font-weight="normal" fill="#333" textLength="23.6" lengthAdjust="spacingAndGlyphs"  >ccc</text>
<text x="534.0" y="507.4" font-size="15" text-anchor="start" font-weight="normal" fill="#333" textLength="10.4" lengthAdjust="spacingAndGlyphs"  >C</text>
<line x1="135.6" y1="553.3" x2="135.6" y2="666.0" stroke="#7a7a7a" stroke-width="1.95" />
<line x1="443.5" y1="554.0" x2="443.5" y2="666.0" stroke="#7a7a7a" stroke-width="1.95" />
<line x1="135.6" y1="556.1" x2="281.5" y2="556.1" stroke="#7a7a7a" stroke-width="1.95" />
<line x1="297.5" y1="556.1" x2="443.5" y2="556.1" stroke="#7a7a7a" stroke-width="1.95" />
<polygon points="136.0,556.1 142.5,554.3 142.5,557.9" fill="#444"/>
<polygon points="443.2,556.1 436.7,557.9 436.7,554.3" fill="#444"/>
<rect x="282.1" y="546.5" width="14.8" height="17.3" stroke="#7a7a7a" stroke-width="1.89" fill="none" />
<text x="289.5" y="560.7" font-size="14" text-anchor="middle" font-weight="normal" fill="#333"  >D</text>
<line x1="161.1" y1="574.3" x2="161.1" y2="656.0" stroke="#7a7a7a" stroke-width="1.95" />
<line x1="418.2" y1="574.3" x2="418.2" y2="656.0" stroke="#7a7a7a" stroke-width="1.95" />
<line x1="161.1" y1="576.5" x2="276.5" y2="576.5" stroke="#7a7a7a" stroke-width="1.95" />
<line x1="302.0" y1="576.5" x2="418.2" y2="576.5" stroke="#7a7a7a" stroke-width="1.95" />
<polygon points="161.5,576.5 168.0,574.7 168.0,578.3" fill="#444"/>
<polygon points="417.9,576.5 411.4,578.3 411.4,574.7" fill="#444"/>
<rect x="277.1" y="568.1" width="24.1" height="17.6" stroke="#7a7a7a" stroke-width="1.89" fill="none" />
<text x="289.2" y="582.3" font-size="15" text-anchor="middle" font-weight="normal" fill="#333" textLength="19.5" lengthAdjust="spacingAndGlyphs"  >D1</text>
<line x1="266.3" y1="598.4" x2="281.5" y2="598.4" stroke="#7a7a7a" stroke-width="1.95" />
<polygon points="285.0,598.4 279.0,599.9 279.0,596.9" fill="#444"/>
<line x1="285.0" y1="594.3" x2="285.0" y2="615.0" stroke="#a0a0a0" stroke-width="1.56" />
<line x1="293.8" y1="594.3" x2="293.8" y2="615.0" stroke="#a0a0a0" stroke-width="1.56" />
<line x1="289.4" y1="594.0" x2="289.4" y2="640.0" stroke="#999" stroke-width="1.43" />
<polygon points="293.3,593.5 301.6,598.4 293.3,603.2" fill="#111"/>
<line x1="301.0" y1="598.4" x2="318.3" y2="598.4" stroke="#7a7a7a" stroke-width="1.95" />
<rect x="319.0" y="589.7" width="17.2" height="17.5" stroke="#7a7a7a" stroke-width="1.89" fill="none" />
<text x="327.6" y="603.9" font-size="14" text-anchor="middle" font-weight="normal" fill="#333"  >D</text>
<line x1="393.7" y1="616.5" x2="572.5" y2="616.5" stroke="#7a7a7a" stroke-width="1.95" />
<line x1="393.7" y1="923.0" x2="572.5" y2="923.0" stroke="#7a7a7a" stroke-width="1.95" />
<line x1="569.3" y1="616.5" x2="569.3" y2="760.7" stroke="#7a7a7a" stroke-width="1.95" />
<line x1="569.3" y1="777.8" x2="569.3" y2="923.0" stroke="#7a7a7a" stroke-width="1.95" />
<polygon points="569.3,616.8 571.1,623.3 567.5,623.3" fill="#444"/>
<polygon points="569.3,922.7 567.5,916.2 571.1,916.2" fill="#444"/>
<line x1="407.5" y1="642.4" x2="525.1" y2="642.4" stroke="#7a7a7a" stroke-width="1.95" />
<line x1="407.5" y1="897.8" x2="525.1" y2="897.8" stroke="#7a7a7a" stroke-width="1.95" />
<line x1="522.0" y1="642.4" x2="522.0" y2="760.0" stroke="#7a7a7a" stroke-width="1.95" />
<line x1="522.0" y1="778.2" x2="522.0" y2="897.8" stroke="#7a7a7a" stroke-width="1.95" />
<polygon points="522.0,642.7 523.8,649.2 520.2,649.2" fill="#444"/>
<polygon points="522.0,897.5 520.2,891.0 523.8,891.0" fill="#444"/>
<rect x="509.6" y="760.7" width="23.3" height="16.8" stroke="#7a7a7a" stroke-width="1.89" fill="none" />
<text x="521.3" y="774.5" font-size="15" text-anchor="middle" font-weight="normal" fill="#333" textLength="18.5" lengthAdjust="spacingAndGlyphs"  >E1</text>
<rect x="561.9" y="761.2" width="14.4" height="16.0" stroke="#7a7a7a" stroke-width="1.89" fill="none" />
<text x="569.1" y="774.5" font-size="14" text-anchor="middle" font-weight="normal" fill="#333"  >E</text>
<polygon points="174.8,642.2 404.3,642.2 418.0,655.9 418.0,883.8 404.3,897.5 174.8,897.5 161.1,883.8 161.1,655.9" fill="none" stroke="#505050" stroke-width="1.7"/>
<polygon points="176.6,646.5 402.5,646.5 413.7,657.7 413.7,882.0 402.5,893.2 176.6,893.2 165.4,882.0 165.4,657.7" fill="none" stroke="#505050" stroke-width="1.6"/>
<line x1="174.8" y1="642.2" x2="176.6" y2="646.5" stroke="#505050" stroke-width="1.56" />
<line x1="404.3" y1="642.2" x2="402.5" y2="646.5" stroke="#505050" stroke-width="1.56" />
<line x1="418.0" y1="655.9" x2="413.7" y2="657.7" stroke="#505050" stroke-width="1.56" />
<line x1="418.0" y1="883.8" x2="413.7" y2="882.0" stroke="#505050" stroke-width="1.56" />
<line x1="404.3" y1="897.5" x2="402.5" y2="893.2" stroke="#505050" stroke-width="1.56" />
<line x1="174.8" y1="897.5" x2="176.6" y2="893.2" stroke="#505050" stroke-width="1.56" />
<line x1="161.1" y1="883.8" x2="165.4" y2="882.0" stroke="#505050" stroke-width="1.56" />
<line x1="161.1" y1="655.9" x2="165.4" y2="657.7" stroke="#505050" stroke-width="1.56" />
<rect x="191.0" y="615.7" width="5.0" height="26.5" stroke="#505050" stroke-width="2.02" fill="white" />
<line x1="191.0" y1="627.5" x2="196.0" y2="627.5" stroke="#505050" stroke-width="1.76" />
<rect x="191.0" y="897.5" width="5.0" height="26.5" stroke="#505050" stroke-width="2.02" fill="white" />
<line x1="191.0" y1="912.2" x2="196.0" y2="912.2" stroke="#505050" stroke-width="1.76" />
<rect x="134.6" y="671.5" width="26.5" height="5.0" stroke="#505050" stroke-width="2.02" fill="white" />
<line x1="146.4" y1="671.5" x2="146.4" y2="676.5" stroke="#505050" stroke-width="1.76" />
<rect x="418.0" y="671.5" width="26.5" height="5.0" stroke="#505050" stroke-width="2.02" fill="white" />
<line x1="432.7" y1="671.5" x2="432.7" y2="676.5" stroke="#505050" stroke-width="1.76" />
<rect x="203.8" y="615.7" width="5.0" height="26.5" stroke="#505050" stroke-width="2.02" fill="white" />
<line x1="203.8" y1="627.5" x2="208.8" y2="627.5" stroke="#505050" stroke-width="1.76" />
<rect x="203.8" y="897.5" width="5.0" height="26.5" stroke="#505050" stroke-width="2.02" fill="white" />
<line x1="203.8" y1="912.2" x2="208.8" y2="912.2" stroke="#505050" stroke-width="1.76" />
<rect x="134.6" y="684.3" width="26.5" height="5.0" stroke="#505050" stroke-width="2.02" fill="white" />
<line x1="146.4" y1="684.3" x2="146.4" y2="689.3" stroke="#505050" stroke-width="1.76" />
<rect x="418.0" y="684.3" width="26.5" height="5.0" stroke="#505050" stroke-width="2.02" fill="white" />
<line x1="432.7" y1="684.3" x2="432.7" y2="689.3" stroke="#505050" stroke-width="1.76" />
<rect x="216.6" y="615.7" width="5.0" height="26.5" stroke="#505050" stroke-width="2.02" fill="white" />
<line x1="216.6" y1="627.5" x2="221.6" y2="627.5" stroke="#505050" stroke-width="1.76" />
<rect x="216.6" y="897.5" width="5.0" height="26.5" stroke="#505050" stroke-width="2.02" fill="white" />
<line x1="216.6" y1="912.2" x2="221.6" y2="912.2" stroke="#505050" stroke-width="1.76" />
<rect x="134.6" y="697.1" width="26.5" height="5.0" stroke="#505050" stroke-width="2.02" fill="white" />
<line x1="146.4" y1="697.1" x2="146.4" y2="702.1" stroke="#505050" stroke-width="1.76" />
<rect x="418.0" y="697.1" width="26.5" height="5.0" stroke="#505050" stroke-width="2.02" fill="white" />
<line x1="432.7" y1="697.1" x2="432.7" y2="702.1" stroke="#505050" stroke-width="1.76" />
<rect x="229.4" y="615.7" width="5.0" height="26.5" stroke="#505050" stroke-width="2.02" fill="white" />
<line x1="229.4" y1="627.5" x2="234.4" y2="627.5" stroke="#505050" stroke-width="1.76" />
<rect x="229.4" y="897.5" width="5.0" height="26.5" stroke="#505050" stroke-width="2.02" fill="white" />
<line x1="229.4" y1="912.2" x2="234.4" y2="912.2" stroke="#505050" stroke-width="1.76" />
<rect x="134.6" y="709.9" width="26.5" height="5.0" stroke="#505050" stroke-width="2.02" fill="white" />
<line x1="146.4" y1="709.9" x2="146.4" y2="714.9" stroke="#505050" stroke-width="1.76" />
<rect x="418.0" y="709.9" width="26.5" height="5.0" stroke="#505050" stroke-width="2.02" fill="white" />
<line x1="432.7" y1="709.9" x2="432.7" y2="714.9" stroke="#505050" stroke-width="1.76" />
<rect x="242.2" y="615.7" width="5.0" height="26.5" stroke="#505050" stroke-width="2.02" fill="white" />
<line x1="242.2" y1="627.5" x2="247.2" y2="627.5" stroke="#505050" stroke-width="1.76" />
<rect x="242.2" y="897.5" width="5.0" height="26.5" stroke="#505050" stroke-width="2.02" fill="white" />
<line x1="242.2" y1="912.2" x2="247.2" y2="912.2" stroke="#505050" stroke-width="1.76" />
<rect x="134.6" y="722.7" width="26.5" height="5.0" stroke="#505050" stroke-width="2.02" fill="white" />
<line x1="146.4" y1="722.7" x2="146.4" y2="727.7" stroke="#505050" stroke-width="1.76" />
<rect x="418.0" y="722.7" width="26.5" height="5.0" stroke="#505050" stroke-width="2.02" fill="white" />
<line x1="432.7" y1="722.7" x2="432.7" y2="727.7" stroke="#505050" stroke-width="1.76" />
<rect x="255.0" y="615.7" width="5.0" height="26.5" stroke="#505050" stroke-width="2.02" fill="white" />
<line x1="255.0" y1="627.5" x2="260.0" y2="627.5" stroke="#505050" stroke-width="1.76" />
<rect x="255.0" y="897.5" width="5.0" height="26.5" stroke="#505050" stroke-width="2.02" fill="white" />
<line x1="255.0" y1="912.2" x2="260.0" y2="912.2" stroke="#505050" stroke-width="1.76" />
<rect x="134.6" y="735.5" width="26.5" height="5.0" stroke="#505050" stroke-width="2.02" fill="white" />
<line x1="146.4" y1="735.5" x2="146.4" y2="740.5" stroke="#505050" stroke-width="1.76" />
<rect x="418.0" y="735.5" width="26.5" height="5.0" stroke="#505050" stroke-width="2.02" fill="white" />
<line x1="432.7" y1="735.5" x2="432.7" y2="740.5" stroke="#505050" stroke-width="1.76" />
<rect x="267.8" y="615.7" width="5.0" height="26.5" stroke="#505050" stroke-width="2.02" fill="white" />
<line x1="267.8" y1="627.5" x2="272.8" y2="627.5" stroke="#505050" stroke-width="1.76" />
<rect x="267.8" y="897.5" width="5.0" height="26.5" stroke="#505050" stroke-width="2.02" fill="white" />
<line x1="267.8" y1="912.2" x2="272.8" y2="912.2" stroke="#505050" stroke-width="1.76" />
<rect x="134.6" y="748.3" width="26.5" height="5.0" stroke="#505050" stroke-width="2.02" fill="white" />
<line x1="146.4" y1="748.3" x2="146.4" y2="753.3" stroke="#505050" stroke-width="1.76" />
<rect x="418.0" y="748.3" width="26.5" height="5.0" stroke="#505050" stroke-width="2.02" fill="white" />
<line x1="432.7" y1="748.3" x2="432.7" y2="753.3" stroke="#505050" stroke-width="1.76" />
<rect x="280.6" y="615.7" width="5.0" height="26.5" stroke="#505050" stroke-width="2.02" fill="white" />
<line x1="280.6" y1="627.5" x2="285.6" y2="627.5" stroke="#505050" stroke-width="1.76" />
<rect x="280.6" y="897.5" width="5.0" height="26.5" stroke="#505050" stroke-width="2.02" fill="white" />
<line x1="280.6" y1="912.2" x2="285.6" y2="912.2" stroke="#505050" stroke-width="1.76" />
<rect x="134.6" y="761.1" width="26.5" height="5.0" stroke="#505050" stroke-width="2.02" fill="white" />
<line x1="146.4" y1="761.1" x2="146.4" y2="766.1" stroke="#505050" stroke-width="1.76" />
<rect x="418.0" y="761.1" width="26.5" height="5.0" stroke="#505050" stroke-width="2.02" fill="white" />
<line x1="432.7" y1="761.1" x2="432.7" y2="766.1" stroke="#505050" stroke-width="1.76" />
<rect x="293.4" y="615.7" width="5.0" height="26.5" stroke="#505050" stroke-width="2.02" fill="white" />
<line x1="293.4" y1="627.5" x2="298.4" y2="627.5" stroke="#505050" stroke-width="1.76" />
<rect x="293.4" y="897.5" width="5.0" height="26.5" stroke="#505050" stroke-width="2.02" fill="white" />
<line x1="293.4" y1="912.2" x2="298.4" y2="912.2" stroke="#505050" stroke-width="1.76" />
<rect x="134.6" y="773.9" width="26.5" height="5.0" stroke="#505050" stroke-width="2.02" fill="white" />
<line x1="146.4" y1="773.9" x2="146.4" y2="778.9" stroke="#505050" stroke-width="1.76" />
<rect x="418.0" y="773.9" width="26.5" height="5.0" stroke="#505050" stroke-width="2.02" fill="white" />
<line x1="432.7" y1="773.9" x2="432.7" y2="778.9" stroke="#505050" stroke-width="1.76" />
<rect x="306.2" y="615.7" width="5.0" height="26.5" stroke="#505050" stroke-width="2.02" fill="white" />
<line x1="306.2" y1="627.5" x2="311.2" y2="627.5" stroke="#505050" stroke-width="1.76" />
<rect x="306.2" y="897.5" width="5.0" height="26.5" stroke="#505050" stroke-width="2.02" fill="white" />
<line x1="306.2" y1="912.2" x2="311.2" y2="912.2" stroke="#505050" stroke-width="1.76" />
<rect x="134.6" y="786.7" width="26.5" height="5.0" stroke="#505050" stroke-width="2.02" fill="white" />
<line x1="146.4" y1="786.7" x2="146.4" y2="791.7" stroke="#505050" stroke-width="1.76" />
<rect x="418.0" y="786.7" width="26.5" height="5.0" stroke="#505050" stroke-width="2.02" fill="white" />
<line x1="432.7" y1="786.7" x2="432.7" y2="791.7" stroke="#505050" stroke-width="1.76" />
<rect x="319.0" y="615.7" width="5.0" height="26.5" stroke="#505050" stroke-width="2.02" fill="white" />
<line x1="319.0" y1="627.5" x2="324.0" y2="627.5" stroke="#505050" stroke-width="1.76" />
<rect x="319.0" y="897.5" width="5.0" height="26.5" stroke="#505050" stroke-width="2.02" fill="white" />
<line x1="319.0" y1="912.2" x2="324.0" y2="912.2" stroke="#505050" stroke-width="1.76" />
<rect x="134.6" y="799.5" width="26.5" height="5.0" stroke="#505050" stroke-width="2.02" fill="white" />
<line x1="146.4" y1="799.5" x2="146.4" y2="804.5" stroke="#505050" stroke-width="1.76" />
<rect x="418.0" y="799.5" width="26.5" height="5.0" stroke="#505050" stroke-width="2.02" fill="white" />
<line x1="432.7" y1="799.5" x2="432.7" y2="804.5" stroke="#505050" stroke-width="1.76" />
<rect x="331.8" y="615.7" width="5.0" height="26.5" stroke="#505050" stroke-width="2.02" fill="white" />
<line x1="331.8" y1="627.5" x2="336.8" y2="627.5" stroke="#505050" stroke-width="1.76" />
<rect x="331.8" y="897.5" width="5.0" height="26.5" stroke="#505050" stroke-width="2.02" fill="white" />
<line x1="331.8" y1="912.2" x2="336.8" y2="912.2" stroke="#505050" stroke-width="1.76" />
<rect x="134.6" y="812.3" width="26.5" height="5.0" stroke="#505050" stroke-width="2.02" fill="white" />
<line x1="146.4" y1="812.3" x2="146.4" y2="817.3" stroke="#505050" stroke-width="1.76" />
<rect x="418.0" y="812.3" width="26.5" height="5.0" stroke="#505050" stroke-width="2.02" fill="white" />
<line x1="432.7" y1="812.3" x2="432.7" y2="817.3" stroke="#505050" stroke-width="1.76" />
<rect x="344.6" y="615.7" width="5.0" height="26.5" stroke="#505050" stroke-width="2.02" fill="white" />
<line x1="344.6" y1="627.5" x2="349.6" y2="627.5" stroke="#505050" stroke-width="1.76" />
<rect x="344.6" y="897.5" width="5.0" height="26.5" stroke="#505050" stroke-width="2.02" fill="white" />
<line x1="344.6" y1="912.2" x2="349.6" y2="912.2" stroke="#505050" stroke-width="1.76" />
<rect x="134.6" y="825.1" width="26.5" height="5.0" stroke="#505050" stroke-width="2.02" fill="white" />
<line x1="146.4" y1="825.1" x2="146.4" y2="830.1" stroke="#505050" stroke-width="1.76" />
<rect x="418.0" y="825.1" width="26.5" height="5.0" stroke="#505050" stroke-width="2.02" fill="white" />
<line x1="432.7" y1="825.1" x2="432.7" y2="830.1" stroke="#505050" stroke-width="1.76" />
<rect x="357.4" y="615.7" width="5.0" height="26.5" stroke="#505050" stroke-width="2.02" fill="white" />
<line x1="357.4" y1="627.5" x2="362.4" y2="627.5" stroke="#505050" stroke-width="1.76" />
<rect x="357.4" y="897.5" width="5.0" height="26.5" stroke="#505050" stroke-width="2.02" fill="white" />
<line x1="357.4" y1="912.2" x2="362.4" y2="912.2" stroke="#505050" stroke-width="1.76" />
<rect x="134.6" y="837.9" width="26.5" height="5.0" stroke="#505050" stroke-width="2.02" fill="white" />
<line x1="146.4" y1="837.9" x2="146.4" y2="842.9" stroke="#505050" stroke-width="1.76" />
<rect x="418.0" y="837.9" width="26.5" height="5.0" stroke="#505050" stroke-width="2.02" fill="white" />
<line x1="432.7" y1="837.9" x2="432.7" y2="842.9" stroke="#505050" stroke-width="1.76" />
<rect x="370.2" y="615.7" width="5.0" height="26.5" stroke="#505050" stroke-width="2.02" fill="white" />
<line x1="370.2" y1="627.5" x2="375.2" y2="627.5" stroke="#505050" stroke-width="1.76" />
<rect x="370.2" y="897.5" width="5.0" height="26.5" stroke="#505050" stroke-width="2.02" fill="white" />
<line x1="370.2" y1="912.2" x2="375.2" y2="912.2" stroke="#505050" stroke-width="1.76" />
<rect x="134.6" y="850.7" width="26.5" height="5.0" stroke="#505050" stroke-width="2.02" fill="white" />
<line x1="146.4" y1="850.7" x2="146.4" y2="855.7" stroke="#505050" stroke-width="1.76" />
<rect x="418.0" y="850.7" width="26.5" height="5.0" stroke="#505050" stroke-width="2.02" fill="white" />
<line x1="432.7" y1="850.7" x2="432.7" y2="855.7" stroke="#505050" stroke-width="1.76" />
<rect x="383.0" y="615.7" width="5.0" height="26.5" stroke="#505050" stroke-width="2.02" fill="white" />
<line x1="383.0" y1="627.5" x2="388.0" y2="627.5" stroke="#505050" stroke-width="1.76" />
<rect x="383.0" y="897.5" width="5.0" height="26.5" stroke="#505050" stroke-width="2.02" fill="white" />
<line x1="383.0" y1="912.2" x2="388.0" y2="912.2" stroke="#505050" stroke-width="1.76" />
<rect x="134.6" y="863.5" width="26.5" height="5.0" stroke="#505050" stroke-width="2.02" fill="white" />
<line x1="146.4" y1="863.5" x2="146.4" y2="868.5" stroke="#505050" stroke-width="1.76" />
<rect x="418.0" y="863.5" width="26.5" height="5.0" stroke="#505050" stroke-width="2.02" fill="white" />
<line x1="432.7" y1="863.5" x2="432.7" y2="868.5" stroke="#505050" stroke-width="1.76" />
<circle cx="194.4" cy="675.6" r="13.2" stroke="#606060" stroke-width="1.49" fill="none"/>
<line x1="289.4" y1="653.0" x2="289.4" y2="895.0" stroke="#707070" stroke-width="2.08" stroke-dasharray="19.3 5 2.5 6.4"/>
<line x1="289.4" y1="897.0" x2="289.4" y2="929.5" stroke="#999" stroke-width="1.43" />
<line x1="169.6" y1="769.7" x2="412.0" y2="769.7" stroke="#707070" stroke-width="2.08" stroke-dasharray="18.5 5.2 2.5 6.1"/>
<line x1="258.3" y1="646.7" x2="258.3" y2="708.3" stroke="#7a7a7a" stroke-width="1.69" stroke-dasharray="7 2"/>
<polygon points="258.3,647.0 260.1,653.5 256.5,653.5" fill="#444"/>
<polygon points="258.3,708.0 256.5,701.5 260.1,701.5" fill="#444"/>
<line x1="228.0" y1="646.7" x2="261.0" y2="646.7" stroke="#505050" stroke-width="2.86" />
<line x1="162.0" y1="708.3" x2="228.0" y2="708.3" stroke="#7a7a7a" stroke-width="1.69" stroke-dasharray="12 3 2 3"/>
<line x1="228.0" y1="708.3" x2="261.7" y2="708.3" stroke="#7a7a7a" stroke-width="1.95" />
<line x1="228.0" y1="646.7" x2="228.0" y2="708.3" stroke="#7a7a7a" stroke-width="1.69" stroke-dasharray="7 2"/>
<line x1="228.0" y1="708.3" x2="228.0" y2="748.5" stroke="#7a7a7a" stroke-width="1.95" />
<text x="237.0" y="683.2" font-size="15" text-anchor="start" font-weight="normal" fill="#333" textLength="31.7" lengthAdjust="spacingAndGlyphs"  >E1/4</text>
<text x="178.0" y="740.8" font-size="15" text-anchor="start" font-weight="normal" fill="#333" textLength="32.0" lengthAdjust="spacingAndGlyphs"  >D1/4</text>
<line x1="166.0" y1="746.2" x2="228.0" y2="746.2" stroke="#7a7a7a" stroke-width="1.95" />
<polygon points="166.5,746.2 173.0,744.4 173.0,748.0" fill="#444"/>
<polygon points="227.7,746.2 221.2,748.0 221.2,744.4" fill="#444"/>
<text transform="translate(132.6,674.2) rotate(-90)" font-size="7.5" font-weight="bold" fill="#444">1</text>
<text transform="translate(132.6,685.8) rotate(-90)" font-size="7.5" font-weight="bold" fill="#444">2</text>
<text transform="translate(132.6,695.5) rotate(-90)" font-size="7.5" font-weight="bold" fill="#444">3</text>
<text x="190.0" y="932.6" font-size="6.5" text-anchor="start" font-weight="bold" fill="#333"  >N</text>
<rect x="96.0" y="720.7" width="18.0" height="17.8" stroke="#7a7a7a" stroke-width="1.89" fill="none" />
<text x="105.0" y="735.0" font-size="14" text-anchor="middle" font-weight="normal" fill="#333"  >A</text>
<line x1="104.7" y1="739.2" x2="104.7" y2="759.0" stroke="#555" stroke-width="1.69" />
<polygon points="104.7,757.5 99.6,765.9 109.8,765.9" fill="#111"/>
<line x1="99.0" y1="765.9" x2="135.0" y2="765.9" stroke="#777" stroke-width="1.82" />
<line x1="101.7" y1="773.4" x2="135.0" y2="773.4" stroke="#777" stroke-width="1.82" />
<line x1="104.0" y1="770.0" x2="135.0" y2="770.0" stroke="#888" stroke-width="1.3" stroke-dasharray="14 4 2 4"/>
<line x1="104.7" y1="773.4" x2="104.7" y2="791.7" stroke="#7a7a7a" stroke-width="1.95" />
<polygon points="104.7,774.0 106.5,780.5 102.9,780.5" fill="#444"/>
<rect x="464.8" y="720.4" width="17.9" height="18.2" stroke="#7a7a7a" stroke-width="1.89" fill="none" />
<text x="473.8" y="734.9" font-size="14" text-anchor="middle" font-weight="normal" fill="#333"  >B</text>
<line x1="473.8" y1="739.3" x2="473.8" y2="758.0" stroke="#555" stroke-width="1.69" />
<polygon points="473.8,756.5 468.7,765.9 478.9,765.9" fill="#111"/>
<line x1="444.0" y1="765.9" x2="474.0" y2="765.9" stroke="#777" stroke-width="1.82" />
<line x1="444.0" y1="773.8" x2="476.3" y2="773.8" stroke="#777" stroke-width="1.82" />
<line x1="445.0" y1="770.0" x2="470.0" y2="770.0" stroke="#888" stroke-width="1.3" stroke-dasharray="10 4 2 4"/>
<line x1="473.8" y1="773.8" x2="473.8" y2="792.6" stroke="#7a7a7a" stroke-width="1.95" />
<polygon points="473.8,774.4 475.6,780.9 472.0,780.9" fill="#444"/>
<line x1="398.3" y1="831.2" x2="457.5" y2="831.2" stroke="#555" stroke-width="1.69" />
<line x1="400.3" y1="831.2" x2="400.3" y2="848.3" stroke="#555" stroke-width="1.56" />
<polygon points="400.3,832.0 401.9,840.0 398.7,840.0" fill="#333"/>
<line x1="455.7" y1="831.2" x2="455.7" y2="848.3" stroke="#555" stroke-width="1.56" />
<polygon points="455.7,832.0 457.3,840.0 454.1,840.0" fill="#333"/>
<text x="393.0" y="849.3" font-size="8" text-anchor="start" font-weight="bold" fill="#333"  >A</text>
<text x="448.3" y="849.3" font-size="8" text-anchor="start" font-weight="bold" fill="#333"  >A</text>
<text x="305.8" y="865.3" font-size="11" text-anchor="start" font-weight="normal" fill="#333" textLength="101.0" lengthAdjust="spacingAndGlyphs"  >(see SECTION A-A)</text>
<path d="M269.3,952.4 L284.8,949.6 L284.8,962.6 L269.3,959.8 Z" stroke="#666" stroke-width="1.69" fill="none" />
<line x1="267.0" y1="956.1" x2="306.5" y2="956.1" stroke="#666" stroke-width="1.43" />
<circle cx="297.4" cy="956.1" r="8.1" stroke="#666" stroke-width="1.56" fill="none"/>
<circle cx="297.4" cy="956.1" r="4.4" stroke="#666" stroke-width="1.56" fill="none"/>
<line x1="297.4" y1="947.5" x2="297.4" y2="964.8" stroke="#666" stroke-width="1.43" />
<text x="22.0" y="961.4" font-size="18.5" text-anchor="start" font-weight="normal" fill="#333" textLength="88.8" lengthAdjust="spacingAndGlyphs"  >TOP VIEW</text>
<text x="21.4" y="996.0" font-size="9.5" text-anchor="start" font-weight="bold" fill="#333" textLength="70.6" lengthAdjust="spacingAndGlyphs"  >7278840_G_9I</text>
<text x="962.0" y="996.0" font-size="13" text-anchor="start" font-weight="normal" fill="#333" textLength="92.0" lengthAdjust="spacingAndGlyphs" font-style="italic" >GAPGPS03451</text>
<g>
<polygon points="753.1,135.0 840.0,191.6 834.5,205.7 745.6,149.1" fill="#777"/>
<polygon points="865.0,190.6 934.5,122.0 940.9,133.9 871.4,203.5" fill="#777"/>
<polygon points="755.1,138.8 758.8,141.0 754.4,145.1 750.7,142.9" fill="#3a3a3a"/>
<polygon points="750.7,142.9 754.4,145.1 753.3,156.6 749.6,154.4" fill="#bdbdbd" stroke="#8a8a8a" stroke-width="0.6"/>
<polygon points="749.6,154.4 753.3,156.6 748.9,160.6 745.2,158.4" fill="#a8a8a8" stroke="#6a6a6a" stroke-width="0.6"/>
<polygon points="745.2,158.4 748.9,160.6 748.9,162.2 745.2,160.0" fill="#555"/>
<polygon points="760.5,142.1 764.2,144.3 759.8,148.3 756.1,146.1" fill="#3a3a3a"/>
<polygon points="756.1,146.1 759.8,148.3 758.7,159.8 755.0,157.6" fill="#bdbdbd" stroke="#8a8a8a" stroke-width="0.6"/>
<polygon points="755.0,157.6 758.7,159.8 754.3,163.9 750.6,161.7" fill="#a8a8a8" stroke="#6a6a6a" stroke-width="0.6"/>
<polygon points="750.6,161.7 754.3,163.9 754.3,165.5 750.6,163.3" fill="#555"/>
<polygon points="765.9,145.3 769.6,147.5 765.2,151.6 761.5,149.4" fill="#3a3a3a"/>
<polygon points="761.5,149.4 765.2,151.6 764.1,163.1 760.4,160.9" fill="#bdbdbd" stroke="#8a8a8a" stroke-width="0.6"/>
<polygon points="760.4,160.9 764.1,163.1 759.7,167.1 756.0,164.9" fill="#a8a8a8" stroke="#6a6a6a" stroke-width="0.6"/>
<polygon points="756.0,164.9 759.7,167.1 759.7,168.7 756.0,166.5" fill="#555"/>
<polygon points="771.4,148.6 775.0,150.8 770.6,154.8 766.9,152.6" fill="#3a3a3a"/>
<polygon points="766.9,152.6 770.6,154.8 769.5,166.3 765.8,164.1" fill="#bdbdbd" stroke="#8a8a8a" stroke-width="0.6"/>
<polygon points="765.8,164.1 769.5,166.3 765.1,170.4 761.4,168.2" fill="#a8a8a8" stroke="#6a6a6a" stroke-width="0.6"/>
<polygon points="761.4,168.2 765.1,170.4 765.1,172.0 761.4,169.8" fill="#555"/>
<polygon points="776.8,151.8 780.5,154.0 776.0,158.1 772.3,155.9" fill="#3a3a3a"/>
<polygon points="772.3,155.9 776.0,158.1 774.9,169.6 771.2,167.4" fill="#bdbdbd" stroke="#8a8a8a" stroke-width="0.6"/>
<polygon points="771.2,167.4 774.9,169.6 770.5,173.6 766.8,171.4" fill="#a8a8a8" stroke="#6a6a6a" stroke-width="0.6"/>
<polygon points="766.8,171.4 770.5,173.6 770.5,175.2 766.8,173.0" fill="#555"/>
<polygon points="782.2,155.1 785.9,157.3 781.4,161.3 777.8,159.1" fill="#3a3a3a"/>
<polygon points="777.8,159.1 781.4,161.3 780.3,172.8 776.7,170.6" fill="#bdbdbd" stroke="#8a8a8a" stroke-width="0.6"/>
<polygon points="776.7,170.6 780.3,172.8 775.9,176.9 772.2,174.7" fill="#a8a8a8" stroke="#6a6a6a" stroke-width="0.6"/>
<polygon points="772.2,174.7 775.9,176.9 775.9,178.5 772.2,176.3" fill="#555"/>
<polygon points="787.6,158.3 791.3,160.5 786.9,164.6 783.2,162.4" fill="#3a3a3a"/>
<polygon points="783.2,162.4 786.9,164.6 785.7,176.1 782.1,173.9" fill="#bdbdbd" stroke="#8a8a8a" stroke-width="0.6"/>
<polygon points="782.1,173.9 785.7,176.1 781.3,180.1 777.6,177.9" fill="#a8a8a8" stroke="#6a6a6a" stroke-width="0.6"/>
<polygon points="777.6,177.9 781.3,180.1 781.3,181.7 777.6,179.5" fill="#555"/>
<polygon points="793.0,161.6 796.7,163.8 792.3,167.8 788.6,165.6" fill="#3a3a3a"/>
<polygon points="788.6,165.6 792.3,167.8 791.2,179.3 787.5,177.1" fill="#bdbdbd" stroke="#8a8a8a" stroke-width="0.6"/>
<polygon points="787.5,177.1 791.2,179.3 786.7,183.4 783.0,181.2" fill="#a8a8a8" stroke="#6a6a6a" stroke-width="0.6"/>
<polygon points="783.0,181.2 786.7,183.4 786.7,185.0 783.0,182.8" fill="#555"/>
<polygon points="798.4,164.8 802.1,167.0 797.7,171.1 794.0,168.9" fill="#3a3a3a"/>
<polygon points="794.0,168.9 797.7,171.1 796.6,182.6 792.9,180.4" fill="#bdbdbd" stroke="#8a8a8a" stroke-width="0.6"/>
<polygon points="792.9,180.4 796.6,182.6 792.1,186.6 788.5,184.4" fill="#a8a8a8" stroke="#6a6a6a" stroke-width="0.6"/>
<polygon points="788.5,184.4 792.1,186.6 792.1,188.2 788.5,186.0" fill="#555"/>
<polygon points="803.8,168.1 807.5,170.3 803.1,174.3 799.4,172.1" fill="#3a3a3a"/>
<polygon points="799.4,172.1 803.1,174.3 802.0,185.8 798.3,183.6" fill="#bdbdbd" stroke="#8a8a8a" stroke-width="0.6"/>
<polygon points="798.3,183.6 802.0,185.8 797.6,189.9 793.9,187.7" fill="#a8a8a8" stroke="#6a6a6a" stroke-width="0.6"/>
<polygon points="793.9,187.7 797.6,189.9 797.6,191.5 793.9,189.3" fill="#555"/>
<polygon points="809.2,171.3 812.9,173.5 808.5,177.6 804.8,175.4" fill="#3a3a3a"/>
<polygon points="804.8,175.4 808.5,177.6 807.4,189.1 803.7,186.9" fill="#bdbdbd" stroke="#8a8a8a" stroke-width="0.6"/>
<polygon points="803.7,186.9 807.4,189.1 803.0,193.1 799.3,190.9" fill="#a8a8a8" stroke="#6a6a6a" stroke-width="0.6"/>
<polygon points="799.3,190.9 803.0,193.1 803.0,194.7 799.3,192.5" fill="#555"/>
<polygon points="814.6,174.6 818.3,176.8 813.9,180.8 810.2,178.6" fill="#3a3a3a"/>
<polygon points="810.2,178.6 813.9,180.8 812.8,192.3 809.1,190.1" fill="#bdbdbd" stroke="#8a8a8a" stroke-width="0.6"/>
<polygon points="809.1,190.1 812.8,192.3 808.4,196.4 804.7,194.2" fill="#a8a8a8" stroke="#6a6a6a" stroke-width="0.6"/>
<polygon points="804.7,194.2 808.4,196.4 808.4,198.0 804.7,195.8" fill="#555"/>
<polygon points="820.1,177.8 823.7,180.0 819.3,184.1 815.6,181.9" fill="#3a3a3a"/>
<polygon points="815.6,181.9 819.3,184.1 818.2,195.6 814.5,193.4" fill="#bdbdbd" stroke="#8a8a8a" stroke-width="0.6"/>
<polygon points="814.5,193.4 818.2,195.6 813.8,199.6 810.1,197.4" fill="#a8a8a8" stroke="#6a6a6a" stroke-width="0.6"/>
<polygon points="810.1,197.4 813.8,199.6 813.8,201.2 810.1,199.0" fill="#555"/>
<polygon points="825.5,181.1 829.2,183.3 824.7,187.3 821.0,185.1" fill="#3a3a3a"/>
<polygon points="821.0,185.1 824.7,187.3 823.6,198.8 819.9,196.6" fill="#bdbdbd" stroke="#8a8a8a" stroke-width="0.6"/>
<polygon points="819.9,196.6 823.6,198.8 819.2,202.9 815.5,200.7" fill="#a8a8a8" stroke="#6a6a6a" stroke-width="0.6"/>
<polygon points="815.5,200.7 819.2,202.9 819.2,204.5 815.5,202.3" fill="#555"/>
<polygon points="830.9,184.3 834.6,186.5 830.1,190.6 826.5,188.4" fill="#3a3a3a"/>
<polygon points="826.5,188.4 830.1,190.6 829.0,202.1 825.3,199.9" fill="#bdbdbd" stroke="#8a8a8a" stroke-width="0.6"/>
<polygon points="825.3,199.9 829.0,202.1 824.6,206.1 820.9,203.9" fill="#a8a8a8" stroke="#6a6a6a" stroke-width="0.6"/>
<polygon points="820.9,203.9 824.6,206.1 824.6,207.7 820.9,205.5" fill="#555"/>
<polygon points="836.3,187.6 840.0,189.8 835.5,193.8 831.9,191.6" fill="#3a3a3a"/>
<polygon points="831.9,191.6 835.5,193.8 834.4,205.3 830.8,203.1" fill="#bdbdbd" stroke="#8a8a8a" stroke-width="0.6"/>
<polygon points="830.8,203.1 834.4,205.3 830.0,209.4 826.3,207.2" fill="#a8a8a8" stroke="#6a6a6a" stroke-width="0.6"/>
<polygon points="826.3,207.2 830.0,209.4 830.0,211.0 826.3,208.8" fill="#555"/>
<polygon points="865.3,188.5 868.4,185.5 873.5,188.6 870.4,191.5" fill="#3a3a3a"/>
<polygon points="870.4,191.5 873.5,188.6 874.8,200.1 871.7,203.0" fill="#bdbdbd" stroke="#8a8a8a" stroke-width="0.6"/>
<polygon points="871.7,203.0 874.8,200.1 880.0,203.2 876.9,206.1" fill="#a8a8a8" stroke="#6a6a6a" stroke-width="0.6"/>
<polygon points="876.9,206.1 880.0,203.2 880.0,204.8 876.9,207.7" fill="#555"/>
<polygon points="869.5,184.4 872.6,181.5 877.8,184.6 874.7,187.5" fill="#3a3a3a"/>
<polygon points="874.7,187.5 877.8,184.6 879.1,196.1 876.0,199.0" fill="#bdbdbd" stroke="#8a8a8a" stroke-width="0.6"/>
<polygon points="876.0,199.0 879.1,196.1 884.2,199.1 881.1,202.1" fill="#a8a8a8" stroke="#6a6a6a" stroke-width="0.6"/>
<polygon points="881.1,202.1 884.2,199.1 884.2,200.7 881.1,203.7" fill="#555"/>
<polygon points="873.8,180.4 876.9,177.5 882.1,180.5 878.9,183.5" fill="#3a3a3a"/>
<polygon points="878.9,183.5 882.1,180.5 883.3,192.0 880.2,195.0" fill="#bdbdbd" stroke="#8a8a8a" stroke-width="0.6"/>
<polygon points="880.2,195.0 883.3,192.0 888.5,195.1 885.4,198.1" fill="#a8a8a8" stroke="#6a6a6a" stroke-width="0.6"/>
<polygon points="885.4,198.1 888.5,195.1 888.5,196.7 885.4,199.7" fill="#555"/>
<polygon points="878.0,176.4 881.2,173.4 886.3,176.5 883.2,179.5" fill="#3a3a3a"/>
<polygon points="883.2,179.5 886.3,176.5 887.6,188.0 884.5,191.0" fill="#bdbdbd" stroke="#8a8a8a" stroke-width="0.6"/>
<polygon points="884.5,191.0 887.6,188.0 892.7,191.1 889.6,194.0" fill="#a8a8a8" stroke="#6a6a6a" stroke-width="0.6"/>
<polygon points="889.6,194.0 892.7,191.1 892.7,192.7 889.6,195.6" fill="#555"/>
<polygon points="882.3,172.4 885.4,169.4 890.6,172.5 887.4,175.4" fill="#3a3a3a"/>
<polygon points="887.4,175.4 890.6,172.5 891.9,184.0 888.7,186.9" fill="#bdbdbd" stroke="#8a8a8a" stroke-width="0.6"/>
<polygon points="888.7,186.9 891.9,184.0 897.0,187.1 893.9,190.0" fill="#a8a8a8" stroke="#6a6a6a" stroke-width="0.6"/>
<polygon points="893.9,190.0 897.0,187.1 897.0,188.7 893.9,191.6" fill="#555"/>
<polygon points="886.5,168.3 889.7,165.4 894.8,168.5 891.7,171.4" fill="#3a3a3a"/>
<polygon points="891.7,171.4 894.8,168.5 896.1,180.0 893.0,182.9" fill="#bdbdbd" stroke="#8a8a8a" stroke-width="0.6"/>
<polygon points="893.0,182.9 896.1,180.0 901.3,183.0 898.1,186.0" fill="#a8a8a8" stroke="#6a6a6a" stroke-width="0.6"/>
<polygon points="898.1,186.0 901.3,183.0 901.3,184.6 898.1,187.6" fill="#555"/>
<polygon points="890.8,164.3 893.9,161.4 899.1,164.4 896.0,167.4" fill="#3a3a3a"/>
<polygon points="896.0,167.4 899.1,164.4 900.4,175.9 897.2,178.9" fill="#bdbdbd" stroke="#8a8a8a" stroke-width="0.6"/>
<polygon points="897.2,178.9 900.4,175.9 905.5,179.0 902.4,182.0" fill="#a8a8a8" stroke="#6a6a6a" stroke-width="0.6"/>
<polygon points="902.4,182.0 905.5,179.0 905.5,180.6 902.4,183.6" fill="#555"/>
<polygon points="895.1,160.3 898.2,157.3 903.3,160.4 900.2,163.4" fill="#3a3a3a"/>
<polygon points="900.2,163.4 903.3,160.4 904.6,171.9 901.5,174.9" fill="#bdbdbd" stroke="#8a8a8a" stroke-width="0.6"/>
<polygon points="901.5,174.9 904.6,171.9 909.8,175.0 906.6,178.0" fill="#a8a8a8" stroke="#6a6a6a" stroke-width="0.6"/>
<polygon points="906.6,178.0 909.8,175.0 909.8,176.6 906.6,179.6" fill="#555"/>
<polygon points="899.3,156.3 902.4,153.3 907.6,156.4 904.5,159.3" fill="#3a3a3a"/>
<polygon points="904.5,159.3 907.6,156.4 908.9,167.9 905.8,170.8" fill="#bdbdbd" stroke="#8a8a8a" stroke-width="0.6"/>
<polygon points="905.8,170.8 908.9,167.9 914.0,171.0 910.9,173.9" fill="#a8a8a8" stroke="#6a6a6a" stroke-width="0.6"/>
<polygon points="910.9,173.9 914.0,171.0 914.0,172.6 910.9,175.5" fill="#555"/>
<polygon points="903.6,152.2 906.7,149.3 911.8,152.4 908.7,155.3" fill="#3a3a3a"/>
<polygon points="908.7,155.3 911.8,152.4 913.1,163.9 910.0,166.8" fill="#bdbdbd" stroke="#8a8a8a" stroke-width="0.6"/>
<polygon points="910.0,166.8 913.1,163.9 918.3,167.0 915.2,169.9" fill="#a8a8a8" stroke="#6a6a6a" stroke-width="0.6"/>
<polygon points="915.2,169.9 918.3,167.0 918.3,168.6 915.2,171.5" fill="#555"/>
<polygon points="907.8,148.2 911.0,145.3 916.1,148.3 913.0,151.3" fill="#3a3a3a"/>
<polygon points="913.0,151.3 916.1,148.3 917.4,159.8 914.3,162.8" fill="#bdbdbd" stroke="#8a8a8a" stroke-width="0.6"/>
<polygon points="914.3,162.8 917.4,159.8 922.5,162.9 919.4,165.9" fill="#a8a8a8" stroke="#6a6a6a" stroke-width="0.6"/>
<polygon points="919.4,165.9 922.5,162.9 922.5,164.5 919.4,167.5" fill="#555"/>
<polygon points="912.1,144.2 915.2,141.2 920.4,144.3 917.2,147.3" fill="#3a3a3a"/>
<polygon points="917.2,147.3 920.4,144.3 921.6,155.8 918.5,158.8" fill="#bdbdbd" stroke="#8a8a8a" stroke-width="0.6"/>
<polygon points="918.5,158.8 921.6,155.8 926.8,158.9 923.7,161.9" fill="#a8a8a8" stroke="#6a6a6a" stroke-width="0.6"/>
<polygon points="923.7,161.9 926.8,158.9 926.8,160.5 923.7,163.5" fill="#555"/>
<polygon points="916.3,140.2 919.5,137.2 924.6,140.3 921.5,143.3" fill="#3a3a3a"/>
<polygon points="921.5,143.3 924.6,140.3 925.9,151.8 922.8,154.8" fill="#bdbdbd" stroke="#8a8a8a" stroke-width="0.6"/>
<polygon points="922.8,154.8 925.9,151.8 931.0,154.9 927.9,157.8" fill="#a8a8a8" stroke="#6a6a6a" stroke-width="0.6"/>
<polygon points="927.9,157.8 931.0,154.9 931.0,156.5 927.9,159.4" fill="#555"/>
<polygon points="920.6,136.1 923.7,133.2 928.9,136.3 925.7,139.2" fill="#3a3a3a"/>
<polygon points="925.7,139.2 928.9,136.3 930.2,147.8 927.0,150.7" fill="#bdbdbd" stroke="#8a8a8a" stroke-width="0.6"/>
<polygon points="927.0,150.7 930.2,147.8 935.3,150.9 932.2,153.8" fill="#a8a8a8" stroke="#6a6a6a" stroke-width="0.6"/>
<polygon points="932.2,153.8 935.3,150.9 935.3,152.5 932.2,155.4" fill="#555"/>
<polygon points="924.9,132.1 928.0,129.2 933.1,132.2 930.0,135.2" fill="#3a3a3a"/>
<polygon points="930.0,135.2 933.1,132.2 934.4,143.7 931.3,146.7" fill="#bdbdbd" stroke="#8a8a8a" stroke-width="0.6"/>
<polygon points="931.3,146.7 934.4,143.7 939.6,146.8 936.4,149.8" fill="#a8a8a8" stroke="#6a6a6a" stroke-width="0.6"/>
<polygon points="936.4,149.8 939.6,146.8 939.6,148.4 936.4,151.4" fill="#555"/>
<polygon points="929.1,128.1 932.2,125.1 937.4,128.2 934.3,131.2" fill="#3a3a3a"/>
<polygon points="934.3,131.2 937.4,128.2 938.7,139.7 935.5,142.7" fill="#bdbdbd" stroke="#8a8a8a" stroke-width="0.6"/>
<polygon points="935.5,142.7 938.7,139.7 943.8,142.8 940.7,145.8" fill="#a8a8a8" stroke="#6a6a6a" stroke-width="0.6"/>
<polygon points="940.7,145.8 943.8,142.8 943.8,144.4 940.7,147.4" fill="#555"/>
<path d="M749.6,126.0 L749.6,135.5 Q750.1,138.0 753.1,139.5 L849.0,199.1 Q853.0,201.1 857.0,198.6 L934.5,125.0 Q936.5,123.0 936.5,120.0 L936.5,113.0 Z" fill="#1c1819"/>
<path d="M750.1,132.2 L851.0,194.0 Q853.0,195.0 855.0,193.8 L936.0,118.2" fill="none" stroke="#9a9a9a" stroke-width="1.1"/>
<path d="M754.4,129.6 Q750.1,127.0 754.4,124.5 L836.1,76.6 Q840.4,74.1 845.0,76.0 L930.9,111.1 Q935.5,113.0 931.8,116.4 L856.7,185.2 Q853.0,188.6 848.7,186.0 Z" fill="#231f20"/>
<polygon points="850.0,99.3 892.0,119.8 848.8,154.7 801.4,129.4" fill="none" stroke="#b0b0b0" stroke-width="1.6" stroke-dasharray="3.4 2.6"/>
</g>
<text x="615.0" y="365.3" font-size="18.5" text-anchor="start" font-weight="normal" fill="#333" textLength="117.5" lengthAdjust="spacingAndGlyphs"  >SECTION A-A</text>
<defs><pattern id="h1" width="5.9" height="5.9" patternUnits="userSpaceOnUse" patternTransform="rotate(-45)"><line x1="0" y1="2.9" x2="5.9" y2="2.9" stroke="#5a5a5a" stroke-width="1.15"/></pattern>
<pattern id="h2" width="6.4" height="6.4" patternUnits="userSpaceOnUse" patternTransform="rotate(-45 748 718)"><line x1="0" y1="3.2" x2="6.4" y2="3.2" stroke="#555" stroke-width="1.1"/></pattern>
<pattern id="h3" width="2.6" height="2.6" patternUnits="userSpaceOnUse" patternTransform="rotate(45)"><line x1="0" y1="1.3" x2="2.6" y2="1.3" stroke="#666" stroke-width="0.9"/></pattern></defs>
<path d="M671.5,405.5 L742,405.5 Q749.5,405.5 751,410 L763.4,463.5 L763.6,484.5 L752.5,534 Q750.5,541.6 743.5,541.6 L669.5,541.6 C663.5,536 660.5,529 662.5,521 C664.5,512 671.5,503 671,492 C670.5,482 663.5,476 664,467 C664.5,456 671,449 670.5,440 C670,431 662.5,424 664.5,415 C665.5,410.5 668,407.5 671.5,405.5 Z" stroke="#606060" stroke-width="1.69" fill="url(#h1)" />
<rect x="634.0" y="448.1" width="17.5" height="18.0" stroke="#7a7a7a" stroke-width="1.89" fill="none" />
<text x="642.8" y="461.0" font-size="12" text-anchor="middle" font-weight="bold" fill="#333"  >H</text>
<line x1="643.0" y1="466.8" x2="643.0" y2="477.0" stroke="#555" stroke-width="1.69" />
<polygon points="643,475.6 637.6,484.4 648.4,484.4" fill="#111"/>
<line x1="637.0" y1="484.5" x2="763.0" y2="484.5" stroke="#777" stroke-width="1.82" />
<line x1="763.8" y1="381.7" x2="763.8" y2="605.5" stroke="#666" stroke-width="1.95" />
<text x="747.5" y="380.5" font-size="15" text-anchor="start" font-weight="normal" fill="#333" textLength="16.7" lengthAdjust="spacingAndGlyphs"  >θ2</text>
<line x1="746.7" y1="383.3" x2="763.4" y2="463.5" stroke="#666" stroke-width="1.69" />
<polygon points="746.9,384.2 740.6,387.7 739.6,384.1" fill="#444"/>
<line x1="738.5" y1="386.3" x2="742.0" y2="385.3" stroke="#7a7a7a" stroke-width="1.95" />
<polygon points="764.2,383.0 771.2,381.1 771.2,384.9" fill="#444"/>
<line x1="769.0" y1="383.0" x2="772.5" y2="383.0" stroke="#7a7a7a" stroke-width="1.95" />
<line x1="763.6" y1="484.5" x2="741.8" y2="585.3" stroke="#666" stroke-width="1.69" />
<text x="745.3" y="592.3" font-size="15" text-anchor="start" font-weight="normal" fill="#333" textLength="15.7" lengthAdjust="spacingAndGlyphs"  >θ3</text>
<polygon points="742.2,586.0 734.9,585.8 736.0,582.2" fill="#444"/>
<line x1="734.0" y1="583.6" x2="737.0" y2="584.5" stroke="#7a7a7a" stroke-width="1.95" />
<polygon points="764.2,587.6 771.2,585.7 771.2,589.5" fill="#444"/>
<line x1="769.0" y1="587.6" x2="772.5" y2="587.6" stroke="#7a7a7a" stroke-width="1.95" />
<path d="M764,463.8 L791.7,463.8 C806,463.8 822,470 828.5,485.5 C831.5,493 832.3,501 834,509.5 C837,523 846,531 863.5,533 L900.8,535 L900.8,555.9" stroke="#666" stroke-width="2.08" fill="none" />
<path d="M764,484.7 L791.7,484.7 C801,484.7 807,489.5 809.8,497.5 C812.5,505.5 813.5,514 816,522 C822,540 838,551 860,553.2 L900.8,555.9" stroke="#666" stroke-width="2.08" fill="none" />
<text x="815.0" y="387.5" font-size="15" text-anchor="start" font-weight="normal" fill="#333" textLength="16.7" lengthAdjust="spacingAndGlyphs"  >θ1</text>
<line x1="831.7" y1="387.5" x2="831.7" y2="489.5" stroke="#666" stroke-width="1.69" />
<line x1="814.2" y1="390.8" x2="830.3" y2="488.0" stroke="#666" stroke-width="1.69" />
<polygon points="814.4,391.5 807.6,394.1 807.2,390.3" fill="#444"/>
<line x1="806.7" y1="392.2" x2="809.0" y2="392.0" stroke="#7a7a7a" stroke-width="1.95" />
<polygon points="832.0,390.0 839.0,388.1 839.0,391.9" fill="#444"/>
<line x1="838.0" y1="390.0" x2="845.0" y2="390.0" stroke="#7a7a7a" stroke-width="1.95" />
<text x="863.3" y="434.2" font-size="15" text-anchor="start" font-weight="normal" fill="#333" textLength="18.4" lengthAdjust="spacingAndGlyphs"  >R1</text>
<line x1="850.8" y1="429.2" x2="859.5" y2="429.2" stroke="#7a7a7a" stroke-width="1.95" />
<line x1="850.8" y1="429.2" x2="803.6" y2="487.2" stroke="#666" stroke-width="1.69" />
<polygon points="803.3,487.6 806.4,481.1 809.1,483.3" fill="#333"/>
<text x="900.8" y="465.8" font-size="15" text-anchor="start" font-weight="normal" fill="#333" textLength="19.2" lengthAdjust="spacingAndGlyphs"  >R2</text>
<line x1="890.0" y1="460.5" x2="897.0" y2="460.5" stroke="#7a7a7a" stroke-width="1.95" />
<line x1="890.0" y1="460.5" x2="840.3" y2="520.4" stroke="#666" stroke-width="1.69" />
<polygon points="840.0,520.8 843.2,514.3 845.8,516.5" fill="#333"/>
<line x1="815.8" y1="521.5" x2="939.3" y2="521.5" stroke="#777" stroke-width="1.95" />
<text x="941.1" y="522.6" font-size="15" text-anchor="start" font-weight="normal" fill="#333" textLength="113.0" lengthAdjust="spacingAndGlyphs"  >GAUGE PLANE</text>
<rect x="909.8" y="521.5" width="19.6" height="34.4" stroke="#707070" stroke-width="1.95" fill="#dcdcdc" />
<text transform="translate(925.3,553.2) rotate(-90)" font-size="14.5" fill="#444" textLength="27" lengthAdjust="spacingAndGlyphs">0.25</text>
<line x1="929.2" y1="521.5" x2="929.2" y2="555.9" stroke="#555" stroke-width="1.82" />
<polygon points="929.2,522.0 930.6,527.0 927.8,527.0" fill="#444"/>
<polygon points="929.2,555.5 927.8,550.5 930.6,550.5" fill="#444"/>
<line x1="900.8" y1="555.9" x2="954.0" y2="555.9" stroke="#777" stroke-width="1.69" />
<line x1="900.8" y1="555.9" x2="954.0" y2="559.8" stroke="#777" stroke-width="1.69" />
<path d="M955.5,545.5 Q958.5,557.5 955.5,570" stroke="#444" stroke-width="2.08" fill="none" />
<polygon points="955.9,556.0 953.9,550.2 956.7,549.9" fill="#444"/>
<polygon points="955.9,560.0 956.7,566.1 953.9,565.8" fill="#444"/>
<text x="962.4" y="565.0" font-size="15" text-anchor="start" font-weight="normal" fill="#333" textLength="8.7" lengthAdjust="spacingAndGlyphs"  >θ</text>
<line x1="763.8" y1="557.5" x2="773.0" y2="557.5" stroke="#7a7a7a" stroke-width="1.95" />
<line x1="786.0" y1="557.5" x2="791.7" y2="557.5" stroke="#7a7a7a" stroke-width="1.95" />
<polygon points="764.3,557.5 770.3,556.1 770.3,558.9" fill="#444"/>
<polygon points="791.4,557.5 786.4,558.9 786.4,556.1" fill="#444"/>
<text x="774.2" y="560.0" font-size="15" text-anchor="start" font-weight="normal" fill="#333" textLength="10.8" lengthAdjust="spacingAndGlyphs"  >S</text>
<line x1="791.7" y1="557.5" x2="791.7" y2="501.0" stroke="#7a7a7a" stroke-width="1.95" />
<polygon points="791.7,500.5 793.3,507.5 790.1,507.5" fill="#444"/>
<line x1="815.8" y1="521.5" x2="815.8" y2="579.5" stroke="#7a7a7a" stroke-width="1.95" />
<line x1="900.8" y1="555.9" x2="900.8" y2="606.7" stroke="#7a7a7a" stroke-width="1.95" />
<line x1="815.8" y1="578.0" x2="852.5" y2="578.0" stroke="#7a7a7a" stroke-width="1.95" />
<line x1="865.0" y1="578.0" x2="900.8" y2="578.0" stroke="#7a7a7a" stroke-width="1.95" />
<polygon points="816.2,578.0 822.7,576.2 822.7,579.8" fill="#444"/>
<polygon points="900.4,578.0 893.9,579.8 893.9,576.2" fill="#444"/>
<text x="854.2" y="580.8" font-size="15" text-anchor="start" font-weight="normal" fill="#333" textLength="9.1" lengthAdjust="spacingAndGlyphs"  >L</text>
<line x1="763.8" y1="604.7" x2="819.0" y2="604.7" stroke="#7a7a7a" stroke-width="1.95" />
<line x1="851.0" y1="604.7" x2="900.8" y2="604.7" stroke="#7a7a7a" stroke-width="1.95" />
<polygon points="764.3,604.7 770.8,602.9 770.8,606.5" fill="#444"/>
<polygon points="900.4,604.7 893.9,606.5 893.9,602.9" fill="#444"/>
<text x="820.8" y="607.5" font-size="15" text-anchor="start" font-weight="normal" fill="#333" textLength="28.4" lengthAdjust="spacingAndGlyphs"  >(L1)</text>
<text x="615.0" y="662.5" font-size="18.5" text-anchor="start" font-weight="normal" fill="#333" textLength="118.0" lengthAdjust="spacingAndGlyphs"  >SECTION B-B</text>
<line x1="744.3" y1="673.3" x2="744.3" y2="715.0" stroke="#7a7a7a" stroke-width="1.95" />
<line x1="806.2" y1="673.3" x2="806.2" y2="715.0" stroke="#7a7a7a" stroke-width="1.95" />
<line x1="744.3" y1="675.0" x2="765.0" y2="675.0" stroke="#7a7a7a" stroke-width="1.95" />
<line x1="788.5" y1="675.0" x2="806.2" y2="675.0" stroke="#7a7a7a" stroke-width="1.95" />
<polygon points="744.8,675.0 751.8,673.1 751.8,676.9" fill="#444"/>
<polygon points="805.7,675.0 798.7,676.9 798.7,673.1" fill="#444"/>
<text x="767.0" y="679.3" font-size="15" text-anchor="start" font-weight="normal" fill="#333" textLength="19.7" lengthAdjust="spacingAndGlyphs"  >(b)</text>
<path d="M744.3,687.3 q5.2,-2.6 10.3,0 t10.3,0 t10.3,0 t10.3,0 t10.3,0 t10.4,0" stroke="#777" stroke-width="1.69" fill="none" />
<rect x="744.3" y="715.1" width="61.9" height="58.0" stroke="#555" stroke-width="2.08" fill="url(#h3)" />
<rect x="748.8" y="718.4" width="53.6" height="50.8" stroke="#555" stroke-width="1.95" fill="white" />
<rect x="748.8" y="718.4" width="53.6" height="50.8" stroke="#555" stroke-width="1.95" fill="url(#h2)" />
<line x1="720.0" y1="715.1" x2="744.3" y2="715.1" stroke="#666" stroke-width="1.82" />
<line x1="720.0" y1="773.1" x2="744.3" y2="773.1" stroke="#666" stroke-width="1.82" />
<line x1="722.2" y1="715.1" x2="722.2" y2="734.0" stroke="#7a7a7a" stroke-width="1.95" />
<line x1="722.2" y1="753.0" x2="722.2" y2="773.1" stroke="#7a7a7a" stroke-width="1.95" />
<polygon points="722.2,715.6 724.1,722.6 720.3,722.6" fill="#444"/>
<polygon points="722.2,772.6 720.3,765.6 724.1,765.6" fill="#444"/>
<text x="720.0" y="747.5" font-size="15" text-anchor="start" font-weight="normal" fill="#333" textLength="8.0" lengthAdjust="spacingAndGlyphs"  >c</text>
<line x1="806.2" y1="715.1" x2="834.2" y2="715.1" stroke="#666" stroke-width="1.82" />
<line x1="806.2" y1="773.1" x2="834.2" y2="773.1" stroke="#666" stroke-width="1.82" />
<line x1="831.3" y1="715.1" x2="831.3" y2="734.0" stroke="#7a7a7a" stroke-width="1.95" />
<line x1="831.3" y1="753.0" x2="831.3" y2="773.1" stroke="#7a7a7a" stroke-width="1.95" />
<polygon points="831.3,715.6 833.2,722.6 829.4,722.6" fill="#444"/>
<polygon points="831.3,772.6 829.4,765.6 833.2,765.6" fill="#444"/>
<text x="828.3" y="749.2" font-size="15" text-anchor="start" font-weight="normal" fill="#333" textLength="16.0" lengthAdjust="spacingAndGlyphs"  >c1</text>
<line x1="747.7" y1="773.0" x2="747.7" y2="791.7" stroke="#7a7a7a" stroke-width="1.95" />
<line x1="803.0" y1="773.0" x2="803.0" y2="791.7" stroke="#7a7a7a" stroke-width="1.95" />
<line x1="747.7" y1="789.7" x2="766.0" y2="789.7" stroke="#7a7a7a" stroke-width="1.95" />
<line x1="786.0" y1="789.7" x2="803.0" y2="789.7" stroke="#7a7a7a" stroke-width="1.95" />
<polygon points="748.2,789.7 755.2,787.8 755.2,791.6" fill="#444"/>
<polygon points="802.5,789.7 795.5,791.6 795.5,787.8" fill="#444"/>
<text x="768.0" y="792.5" font-size="15" text-anchor="start" font-weight="normal" fill="#333" textLength="16.2" lengthAdjust="spacingAndGlyphs"  >b1</text>
<line x1="832.5" y1="685.3" x2="845.0" y2="685.3" stroke="#7a7a7a" stroke-width="1.95" />
<line x1="832.5" y1="685.3" x2="805.3" y2="715.0" stroke="#666" stroke-width="1.69" />
<polygon points="805.0,715.3 808.5,709.0 811.0,711.3" fill="#333"/>
<text x="847.5" y="689.2" font-size="15" text-anchor="start" font-weight="normal" fill="#333" textLength="111.5" lengthAdjust="spacingAndGlyphs"  >WITH PLATING</text>
<line x1="816.7" y1="786.3" x2="845.0" y2="786.3" stroke="#7a7a7a" stroke-width="1.95" />
<line x1="816.7" y1="786.3" x2="790.3" y2="757.0" stroke="#666" stroke-width="1.69" />
<polygon points="790.0,756.7 796.0,760.8 793.4,763.0" fill="#222"/>
<text x="846.7" y="788.3" font-size="15" text-anchor="start" font-weight="normal" fill="#333" textLength="97.4" lengthAdjust="spacingAndGlyphs"  >BASE METAL</text>
</g>
</svg>
</body></html>
